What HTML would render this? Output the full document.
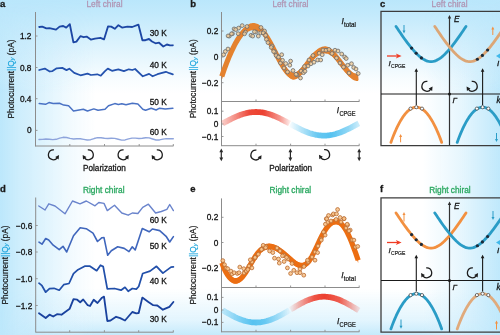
<!DOCTYPE html>
<html><head><meta charset="utf-8"><style>
html,body{margin:0;padding:0;background:#fff;}
body{width:500px;height:335px;overflow:hidden;position:relative;font-family:"Liberation Sans", sans-serif;}
svg{position:absolute;left:0;top:0;font-family:"Liberation Sans", sans-serif;will-change:transform;}
.ov{position:absolute;pointer-events:none;}
#ovT{left:0;top:0;width:500px;height:95px;background:linear-gradient(to bottom, rgba(88,196,246,0.410) 0px, rgba(88,196,246,0.360) 14px, rgba(88,196,246,0.210) 44px, rgba(88,196,246,0.040) 80px, rgba(88,196,246,0.000) 94px);}
#ovL{left:0;top:0;width:98px;height:335px;background:linear-gradient(to right, rgba(88,196,246,0.400) 0px, rgba(88,196,246,0.300) 18px, rgba(88,196,246,0.190) 45px, rgba(88,196,246,0.080) 70px, rgba(88,196,246,0.000) 96px);
 -webkit-mask-image:linear-gradient(to bottom, transparent 0px, #000 90px);mask-image:linear-gradient(to bottom, transparent 0px, #000 90px);}
#ovR{left:420px;top:0;width:80px;height:335px;background:linear-gradient(to left, rgba(88,196,246,0.380) 0px, rgba(88,196,246,0.140) 40px, rgba(88,196,246,0.000) 78px);
 -webkit-mask-image:linear-gradient(to bottom, transparent 0px, #000 90px);mask-image:linear-gradient(to bottom, transparent 0px, #000 90px);}
#ovB{left:0;top:288px;width:500px;height:47px;background:linear-gradient(to top, rgba(88,196,246,0.340) 0px, rgba(88,196,246,0.170) 15px, rgba(88,196,246,0.000) 46px);
 -webkit-mask-image:linear-gradient(to right, transparent 0px, #000 96px, #000 422px, transparent 500px);mask-image:linear-gradient(to right, transparent 0px, #000 96px, #000 422px, transparent 500px);}
</style></head><body>
<div class="ov" id="ovT"></div><div class="ov" id="ovL"></div><div class="ov" id="ovR"></div><div class="ov" id="ovB"></div>
<svg width="500" height="335" viewBox="0 0 500 335">
<text x="0" y="7.2" font-size="9.5" fill="#1a1a1a" stroke="#1a1a1a" stroke-width="0.3" text-anchor="start" font-weight="bold" font-style="normal" >a</text>
<text x="86.5" y="7.2" font-size="8.3" fill="#b096b4" stroke="#b096b4" stroke-width="0.3" text-anchor="start" font-weight="normal" font-style="normal" >Left chiral</text>
<line x1="35.5" y1="12" x2="35.5" y2="146.5" stroke="#8c8c8c" stroke-width="1"/>
<line x1="35.5" y1="146" x2="173.5" y2="146" stroke="#8c8c8c" stroke-width="1"/>
<line x1="69.8" y1="146" x2="69.8" y2="144" stroke="#8c8c8c" stroke-width="0.9"/>
<line x1="104.5" y1="146" x2="104.5" y2="144" stroke="#8c8c8c" stroke-width="0.9"/>
<line x1="139.2" y1="146" x2="139.2" y2="144" stroke="#8c8c8c" stroke-width="0.9"/>
<line x1="173.3" y1="146" x2="173.3" y2="144" stroke="#8c8c8c" stroke-width="0.9"/>
<line x1="35.5" y1="36" x2="37.5" y2="36" stroke="#8c8c8c" stroke-width="0.9"/>
<text x="31.5" y="39" font-size="8.3" fill="#141414" stroke="#141414" stroke-width="0.3" text-anchor="end" font-weight="normal" font-style="normal" >1.2</text>
<line x1="35.5" y1="67.5" x2="37.5" y2="67.5" stroke="#8c8c8c" stroke-width="0.9"/>
<text x="31.5" y="70.5" font-size="8.3" fill="#141414" stroke="#141414" stroke-width="0.3" text-anchor="end" font-weight="normal" font-style="normal" >0.8</text>
<line x1="35.5" y1="98.7" x2="37.5" y2="98.7" stroke="#8c8c8c" stroke-width="0.9"/>
<text x="31.5" y="101.7" font-size="8.3" fill="#141414" stroke="#141414" stroke-width="0.3" text-anchor="end" font-weight="normal" font-style="normal" >0.4</text>
<line x1="35.5" y1="130.4" x2="37.5" y2="130.4" stroke="#8c8c8c" stroke-width="0.9"/>
<text x="31.5" y="133.4" font-size="8.3" fill="#141414" stroke="#141414" stroke-width="0.3" text-anchor="end" font-weight="normal" font-style="normal" >0</text>
<text transform="translate(10.5,79) rotate(-90)" x="0" y="0" font-size="8.3" fill="#141414" stroke="#141414" stroke-width="0.18" text-anchor="middle" dominant-baseline="central">Photocurrent<tspan fill="#1aa4dc" stroke="#1aa4dc">||Q</tspan><tspan fill="#1aa4dc" stroke="#1aa4dc" font-size="5.5" font-style="italic" dy="1.5">y</tspan><tspan dy="-1.5"> (pA)</tspan></text>
<path d="M39.2 27 L42.2 26.6 L46.4 28.4 L49.4 28.2 L56 29.6 L59.6 26.6 L63.2 26 L66.2 27.6 L69.8 24.2 L73.4 42.4 L76.4 41.6 L80.4 36.2 L83.6 37.2 L86.6 36.6 L90.8 39.6 L95 38.6 L100.4 37.8 L104 39.4 L108 26.4 L111.2 26.6 L114.8 28.8 L118.4 25.2 L122 27.6 L127.4 26.6 L132.2 27 L138.4 24.6 L142.4 40.2 L145.4 40.2 L149 39 L152 41.5 L155.5 43.3 L159.1 42.7 L163.3 46.5 L166.9 44.5 L169.9 45.4 L172.8 45.3" fill="none" stroke="#1c46a4" stroke-width="1.85" stroke-linejoin="round" stroke-linecap="round" />
<path d="M39.2 70 L44.8 68.6 L49.7 71.5 L52.5 71.1 L56.7 68.3 L62.3 67.9 L66.5 70.1 L69.3 68.7 L74.2 72.9 L80.5 75.3 L87.5 73.6 L91 75 L97.3 74.3 L100.8 75.7 L105 71.1 L107.8 68.6 L112 70.8 L118.3 69.3 L123.9 71.1 L128.8 69.3 L132.3 70 L135.1 69 L142.8 76.3 L149.1 73.9 L152.6 76.3 L157.5 74.2 L165.9 71.8 L169.4 73.2 L172.9 74.3" fill="none" stroke="#2452ae" stroke-width="1.75" stroke-linejoin="round" stroke-linecap="round" />
<path d="M39.2 103.6 L45.5 104.3 L49 102.6 L53.2 103.6 L59.5 103.3 L63.7 105.1 L68.6 105.7 L73.5 111 L83.3 109.2 L87.5 111 L93.8 108.9 L98 110.3 L105 109.2 L108.5 105.7 L114.8 103.6 L118.3 104.4 L121.8 103.7 L126 104.7 L132.3 103.3 L137.9 104 L142.8 109.2 L145.6 110.3 L151.2 108.2 L156.1 110 L159.6 108.2 L165.2 108.9 L172.9 108.2" fill="none" stroke="#4a72c4" stroke-width="1.5" stroke-linejoin="round" stroke-linecap="round" />
<path d="M39 139.47 L42.44 139.33 L45.89 139 L49.33 139.21 L52.77 139.61 L56.22 139.3 L59.66 138.19 L63.11 137.31 L66.55 137.52 L69.99 138.42 L73.44 138.94 L76.88 138.8 L80.32 138.76 L83.77 139.36 L87.21 139.99 L90.65 139.71 L94.1 138.55 L97.54 137.63 L100.98 137.71 L104.43 138.3 L107.87 138.48 L111.32 138.21 L114.76 138.35 L118.2 139.26 L121.65 140.12 L125.09 139.95 L128.53 138.91 L131.98 138.11 L135.42 138.14 L138.86 138.43 L142.31 138.2 L145.75 137.7 L149.19 137.89 L152.64 138.96 L156.08 139.97 L159.53 139.94 L162.97 139.14 L166.41 138.6 L169.86 138.72 L173.3 138.77" fill="none" stroke="#8ea4dc" stroke-width="1.4" stroke-linejoin="round" stroke-linecap="round" />
<text x="149.7" y="36.1" font-size="8.3" fill="#141414" stroke="#141414" stroke-width="0.3" text-anchor="start" font-weight="normal" font-style="normal" >30 K</text>
<text x="149.7" y="67.6" font-size="8.3" fill="#141414" stroke="#141414" stroke-width="0.3" text-anchor="start" font-weight="normal" font-style="normal" >40 K</text>
<text x="149.7" y="105.1" font-size="8.3" fill="#141414" stroke="#141414" stroke-width="0.3" text-anchor="start" font-weight="normal" font-style="normal" >50 K</text>
<text x="149.7" y="134.6" font-size="8.3" fill="#141414" stroke="#141414" stroke-width="0.3" text-anchor="start" font-weight="normal" font-style="normal" >60 K</text>
<path d="M53.9 149.9 A4.9 4.9 0 1 0 57.36 157.54" fill="none" stroke="#1e1e1e" stroke-width="1.3"/>
<path d="M59.04 155.05 L58.66 159.38 L55.17 157.03Z" fill="#1e1e1e"/>
<path d="M87.8 149.9 A4.9 4.9 0 1 1 84.34 157.54" fill="none" stroke="#1e1e1e" stroke-width="1.3"/>
<path d="M82.66 155.05 L86.53 157.03 L83.04 159.38Z" fill="#1e1e1e"/>
<path d="M123.6 149.9 A4.9 4.9 0 1 0 127.06 157.54" fill="none" stroke="#1e1e1e" stroke-width="1.3"/>
<path d="M128.74 155.05 L128.36 159.38 L124.87 157.03Z" fill="#1e1e1e"/>
<path d="M156.8 149.9 A4.9 4.9 0 1 1 153.34 157.54" fill="none" stroke="#1e1e1e" stroke-width="1.3"/>
<path d="M151.66 155.05 L155.53 157.03 L152.04 159.38Z" fill="#1e1e1e"/>
<text x="83" y="171" font-size="8.2" fill="#1a1a1a" stroke="#1a1a1a" stroke-width="0.3" text-anchor="start" font-weight="normal" font-style="normal" >Polarization</text>
<text x="0" y="192.2" font-size="9.5" fill="#1a1a1a" stroke="#1a1a1a" stroke-width="0.3" text-anchor="start" font-weight="bold" font-style="normal" >d</text>
<text x="83" y="192.8" font-size="8.3" fill="#2aa860" stroke="#2aa860" stroke-width="0.3" text-anchor="start" font-weight="normal" font-style="normal" >Right chiral</text>
<line x1="35.7" y1="197.5" x2="35.7" y2="332.5" stroke="#8c8c8c" stroke-width="1"/>
<line x1="35.7" y1="332.2" x2="173.5" y2="332.2" stroke="#8c8c8c" stroke-width="1"/>
<line x1="69.7" y1="332.2" x2="69.7" y2="330.2" stroke="#8c8c8c" stroke-width="0.9"/>
<line x1="104.4" y1="332.2" x2="104.4" y2="330.2" stroke="#8c8c8c" stroke-width="0.9"/>
<line x1="138.7" y1="332.2" x2="138.7" y2="330.2" stroke="#8c8c8c" stroke-width="0.9"/>
<line x1="173.3" y1="332.2" x2="173.3" y2="330.2" stroke="#8c8c8c" stroke-width="0.9"/>
<line x1="35.7" y1="225.5" x2="37.7" y2="225.5" stroke="#8c8c8c" stroke-width="0.9"/>
<text x="32.3" y="228.5" font-size="8.3" fill="#141414" stroke="#141414" stroke-width="0.3" text-anchor="end" font-weight="normal" font-style="normal" >−0.6</text>
<line x1="35.7" y1="252" x2="37.7" y2="252" stroke="#8c8c8c" stroke-width="0.9"/>
<text x="32.3" y="255" font-size="8.3" fill="#141414" stroke="#141414" stroke-width="0.3" text-anchor="end" font-weight="normal" font-style="normal" >−0.8</text>
<line x1="35.7" y1="278.7" x2="37.7" y2="278.7" stroke="#8c8c8c" stroke-width="0.9"/>
<text x="32.3" y="281.7" font-size="8.3" fill="#141414" stroke="#141414" stroke-width="0.3" text-anchor="end" font-weight="normal" font-style="normal" >−1.0</text>
<line x1="35.7" y1="305.5" x2="37.7" y2="305.5" stroke="#8c8c8c" stroke-width="0.9"/>
<text x="32.3" y="308.5" font-size="8.3" fill="#141414" stroke="#141414" stroke-width="0.3" text-anchor="end" font-weight="normal" font-style="normal" >−1.2</text>
<text transform="translate(4.6,265) rotate(-90)" x="0" y="0" font-size="8.3" fill="#141414" stroke="#141414" stroke-width="0.18" text-anchor="middle" dominant-baseline="central">Photocurrent<tspan fill="#1aa4dc" stroke="#1aa4dc">||Q</tspan><tspan fill="#1aa4dc" stroke="#1aa4dc" font-size="5.5" font-style="italic" dy="1.5">y</tspan><tspan dy="-1.5"> (pA)</tspan></text>
<path d="M38.8 206 L45 210 L48.8 203.8 L55 206 L65 213.8 L72.5 201 L80 203.8 L86.3 201 L95 205.8 L98.8 202.5 L104 203.4 L107.3 210.6 L114.5 205.3 L121.8 213 L128.2 215.2 L132.3 213 L137.9 213.5 L142.7 207.4 L148.4 204.2 L155.6 213 L161.3 211.5 L166.9 209.4 L169.7 204.5 L173.4 210.6" fill="none" stroke="#6a84cc" stroke-width="1.4" stroke-linejoin="round" stroke-linecap="round" />
<path d="M39 242.2 L42 244.2 L45.7 238.5 L48.7 240 L53.2 245.2 L59.2 249.7 L63 246.3 L66.7 252 L73.5 235.8 L80.2 227.7 L86.2 228.7 L93 233.2 L97.5 241.5 L102 237.7 L104 237.6 L107.7 255.3 L111.3 250.8 L117.7 246.8 L124.2 248.4 L129 251.6 L132.3 246.8 L135.2 250 L142.3 228.5 L149.2 231.8 L152.4 229 L159.7 230.6 L166.1 236.3 L169.7 242 L173.4 236.6" fill="none" stroke="#3f66bc" stroke-width="1.6" stroke-linejoin="round" stroke-linecap="round" />
<path d="M39 283.2 L42 285.7 L45.7 292.2 L49.5 288.7 L54 288.3 L59.2 290.2 L63.7 284.7 L69 283.5 L73.5 273.7 L78 269.7 L84.7 266.2 L90 266.2 L96.7 270.7 L100.5 265.2 L103.2 266.6 L107.3 288.9 L114.5 288.5 L121 290.2 L125 287.3 L128.2 291.3 L132.3 288.5 L136.3 289.2 L138.7 286.5 L142.7 273.5 L150 271.1 L156.5 266.3 L162.9 273.1 L171 267.1 L173.4 266.8" fill="none" stroke="#2250aa" stroke-width="1.75" stroke-linejoin="round" stroke-linecap="round" />
<path d="M39 313.2 L45.7 318 L49.5 314.7 L53.2 316.5 L57 314.2 L61.5 314.7 L65.2 312 L69.7 308.7 L73.5 299.2 L77.2 299.7 L80.2 302.2 L83.2 299.5 L87.7 305.2 L90 306 L93.7 299.7 L97.5 303 L102 297.7 L104 296.6 L107.3 321 L110.5 320.5 L116.1 316.8 L120.2 318.1 L125 320.5 L132.3 312 L136.3 313.3 L138.7 313 L142.3 297.6 L148.4 302 L153.2 305.2 L157.3 305.5 L162.9 309.7 L169.4 306.8 L173.4 302" fill="none" stroke="#1a429e" stroke-width="1.85" stroke-linejoin="round" stroke-linecap="round" />
<text x="149.7" y="222.7" font-size="8.3" fill="#141414" stroke="#141414" stroke-width="0.3" text-anchor="start" font-weight="normal" font-style="normal" >60 K</text>
<text x="149.7" y="248.9" font-size="8.3" fill="#141414" stroke="#141414" stroke-width="0.3" text-anchor="start" font-weight="normal" font-style="normal" >50 K</text>
<text x="149.7" y="284.4" font-size="8.3" fill="#141414" stroke="#141414" stroke-width="0.3" text-anchor="start" font-weight="normal" font-style="normal" >40 K</text>
<text x="149.7" y="321.6" font-size="8.3" fill="#141414" stroke="#141414" stroke-width="0.3" text-anchor="start" font-weight="normal" font-style="normal" >30 K</text>
<defs><linearGradient id="gR1" gradientUnits="userSpaceOnUse" x1="222" y1="0" x2="290" y2="0"><stop offset="0" stop-color="#ec4030" stop-opacity="0.25"/><stop offset="0.2" stop-color="#ec4030" stop-opacity="0.6"/><stop offset="0.4" stop-color="#ec4030" stop-opacity="0.95"/><stop offset="0.6" stop-color="#ec4030" stop-opacity="1"/><stop offset="0.85" stop-color="#ec4030" stop-opacity="0.55"/><stop offset="1" stop-color="#ec4030" stop-opacity="0.1"/></linearGradient><linearGradient id="gB1" gradientUnits="userSpaceOnUse" x1="290" y1="0" x2="359" y2="0"><stop offset="0" stop-color="#56c2f0" stop-opacity="0.05"/><stop offset="0.15" stop-color="#56c2f0" stop-opacity="0.4"/><stop offset="0.4" stop-color="#56c2f0" stop-opacity="0.9"/><stop offset="0.6" stop-color="#56c2f0" stop-opacity="1"/><stop offset="0.85" stop-color="#56c2f0" stop-opacity="0.65"/><stop offset="1" stop-color="#56c2f0" stop-opacity="0.3"/></linearGradient><linearGradient id="gB2" gradientUnits="userSpaceOnUse" x1="222" y1="0" x2="290" y2="0"><stop offset="0" stop-color="#56c2f0" stop-opacity="0.3"/><stop offset="0.2" stop-color="#56c2f0" stop-opacity="0.65"/><stop offset="0.45" stop-color="#56c2f0" stop-opacity="1"/><stop offset="0.62" stop-color="#56c2f0" stop-opacity="0.9"/><stop offset="0.85" stop-color="#56c2f0" stop-opacity="0.45"/><stop offset="1" stop-color="#56c2f0" stop-opacity="0.05"/></linearGradient><linearGradient id="gR2" gradientUnits="userSpaceOnUse" x1="290" y1="0" x2="359" y2="0"><stop offset="0" stop-color="#ec4030" stop-opacity="0.05"/><stop offset="0.15" stop-color="#ec4030" stop-opacity="0.45"/><stop offset="0.35" stop-color="#ec4030" stop-opacity="0.9"/><stop offset="0.5" stop-color="#ec4030" stop-opacity="1"/><stop offset="0.72" stop-color="#ec4030" stop-opacity="0.85"/><stop offset="1" stop-color="#ec4030" stop-opacity="0.15"/></linearGradient><filter id="soft" x="-5%" y="-40%" width="110%" height="180%"><feGaussianBlur stdDeviation="0.45"/></filter></defs>
<text x="190.3" y="7.2" font-size="9.5" fill="#1a1a1a" stroke="#1a1a1a" stroke-width="0.3" text-anchor="start" font-weight="bold" font-style="normal" >b</text>
<text x="272.4" y="7.2" font-size="8.3" fill="#b096b4" stroke="#b096b4" stroke-width="0.3" text-anchor="start" font-weight="normal" font-style="normal" >Left chiral</text>
<line x1="221.5" y1="12" x2="221.5" y2="146.2" stroke="#8c8c8c" stroke-width="1"/>
<line x1="221.5" y1="101.5" x2="359.4" y2="101.5" stroke="#8c8c8c" stroke-width="1"/>
<line x1="221.5" y1="145.7" x2="359.4" y2="145.7" stroke="#8c8c8c" stroke-width="1"/>
<line x1="256" y1="101.5" x2="256" y2="99.5" stroke="#8c8c8c" stroke-width="0.9"/>
<line x1="256" y1="145.7" x2="256" y2="143.7" stroke="#8c8c8c" stroke-width="0.9"/>
<line x1="290.6" y1="101.5" x2="290.6" y2="99.5" stroke="#8c8c8c" stroke-width="0.9"/>
<line x1="290.6" y1="145.7" x2="290.6" y2="143.7" stroke="#8c8c8c" stroke-width="0.9"/>
<line x1="325" y1="101.5" x2="325" y2="99.5" stroke="#8c8c8c" stroke-width="0.9"/>
<line x1="325" y1="145.7" x2="325" y2="143.7" stroke="#8c8c8c" stroke-width="0.9"/>
<line x1="359.2" y1="101.5" x2="359.2" y2="99.5" stroke="#8c8c8c" stroke-width="0.9"/>
<line x1="359.2" y1="145.7" x2="359.2" y2="143.7" stroke="#8c8c8c" stroke-width="0.9"/>
<line x1="221.5" y1="31" x2="223.5" y2="31" stroke="#8c8c8c" stroke-width="0.9"/>
<text x="218.3" y="34" font-size="8.3" fill="#141414" stroke="#141414" stroke-width="0.3" text-anchor="end" font-weight="normal" font-style="normal" >0.2</text>
<line x1="221.5" y1="57" x2="223.5" y2="57" stroke="#8c8c8c" stroke-width="0.9"/>
<text x="218.3" y="60" font-size="8.3" fill="#141414" stroke="#141414" stroke-width="0.3" text-anchor="end" font-weight="normal" font-style="normal" >0</text>
<line x1="221.5" y1="82.7" x2="223.5" y2="82.7" stroke="#8c8c8c" stroke-width="0.9"/>
<text x="218.3" y="85.7" font-size="8.3" fill="#141414" stroke="#141414" stroke-width="0.3" text-anchor="end" font-weight="normal" font-style="normal" >−0.2</text>
<line x1="221.5" y1="111.2" x2="223.5" y2="111.2" stroke="#8c8c8c" stroke-width="0.9"/>
<text x="218.3" y="114.2" font-size="8.3" fill="#141414" stroke="#141414" stroke-width="0.3" text-anchor="end" font-weight="normal" font-style="normal" >0.1</text>
<line x1="221.5" y1="124" x2="223.5" y2="124" stroke="#8c8c8c" stroke-width="0.9"/>
<text x="218.3" y="127" font-size="8.3" fill="#141414" stroke="#141414" stroke-width="0.3" text-anchor="end" font-weight="normal" font-style="normal" >0</text>
<line x1="221.5" y1="136.5" x2="223.5" y2="136.5" stroke="#8c8c8c" stroke-width="0.9"/>
<text x="218.3" y="139.5" font-size="8.3" fill="#141414" stroke="#141414" stroke-width="0.3" text-anchor="end" font-weight="normal" font-style="normal" >−0.1</text>
<text transform="translate(193.2,78.85) rotate(-90)" x="0" y="0" font-size="8.3" fill="#141414" stroke="#141414" stroke-width="0.18" text-anchor="middle" dominant-baseline="central">Photocurrent<tspan fill="#1aa4dc" stroke="#1aa4dc">||Q</tspan><tspan fill="#1aa4dc" stroke="#1aa4dc" font-size="5.5" font-style="italic" dy="1.5">y</tspan><tspan dy="-1.5"> (pA)</tspan></text>
<path d="M221.8 72.76 L222.66 70.24 L223.52 67.78 L224.37 65.38 L225.23 63.04 L226.09 60.75 L226.95 58.53 L227.81 56.37 L228.66 54.26 L229.52 52.22 L230.38 50.24 L231.24 48.33 L232.09 46.48 L232.95 44.69 L233.81 42.97 L234.67 41.32 L235.53 39.73 L236.38 38.21 L237.24 36.76 L238.1 35.37 L238.96 34.06 L239.82 32.81 L240.67 31.64 L241.53 30.54 L242.39 29.51 L243.25 28.55 L244.1 27.67 L244.96 26.86 L245.82 26.13 L246.68 25.47 L247.54 24.89 L248.39 24.38 L249.25 23.96 L250.11 23.61 L250.97 23.34 L251.83 23.15 L252.68 23.04 L253.54 23.01 L254.4 23.07 L255.26 23.2 L256.11 23.42 L256.97 23.72 L257.83 24.11 L258.69 24.59 L259.55 25.14 L260.4 25.79 L261.26 26.52 L262.12 27.34 L262.98 28.25 L263.84 29.25 L264.69 30.34 L265.55 31.52 L266.41 32.77 L267.27 34.1 L268.12 35.5 L268.98 36.95 L269.84 38.46 L270.7 40 L271.56 41.59 L272.41 43.21 L273.27 44.85 L274.13 46.5 L274.99 48.16 L275.85 49.83 L276.7 51.49 L277.56 53.14 L278.42 54.76 L279.28 56.36 L280.13 57.93 L280.99 59.45 L281.85 60.93 L282.71 62.35 L283.57 63.7 L284.42 64.99 L285.28 66.2 L286.14 67.33 L287 68.36 L287.86 69.3 L288.71 70.13 L289.57 70.85 L290.43 71.45 L291.29 71.92 L292.14 72.26 L293 72.45 L293.86 72.5 L294.72 72.4 L295.58 72.16 L296.43 71.8 L297.29 71.31 L298.15 70.72 L299.01 70.02 L299.87 69.24 L300.72 68.38 L301.58 67.44 L302.44 66.45 L303.3 65.41 L304.15 64.33 L305.01 63.22 L305.87 62.08 L306.73 60.94 L307.59 59.8 L308.44 58.67 L309.3 57.55 L310.16 56.47 L311.02 55.42 L311.88 54.42 L312.73 53.46 L313.59 52.56 L314.45 51.71 L315.31 50.91 L316.16 50.17 L317.02 49.49 L317.88 48.87 L318.74 48.31 L319.6 47.82 L320.45 47.39 L321.31 47.04 L322.17 46.75 L323.03 46.54 L323.89 46.4 L324.74 46.34 L325.6 46.36 L326.46 46.46 L327.32 46.65 L328.17 46.92 L329.03 47.28 L329.89 47.73 L330.75 48.27 L331.61 48.9 L332.46 49.6 L333.32 50.38 L334.18 51.22 L335.04 52.12 L335.9 53.08 L336.75 54.07 L337.61 55.11 L338.47 56.18 L339.33 57.27 L340.18 58.38 L341.04 59.5 L341.9 60.62 L342.76 61.74 L343.62 62.85 L344.47 63.95 L345.33 65.02 L346.19 66.06 L347.05 67.07 L347.91 68.03 L348.76 68.94 L349.62 69.8 L350.48 70.59 L351.34 71.31 L352.19 71.95 L353.05 72.51 L353.91 72.98 L354.77 73.35 L355.63 73.61 L356.48 73.76 L357.34 73.8 L358.2 73.71 L358.2 80.91 L357.34 81 L356.48 80.96 L355.63 80.81 L354.77 80.55 L353.91 80.18 L353.05 79.71 L352.19 79.15 L351.34 78.51 L350.48 77.79 L349.62 77 L348.76 76.14 L347.91 75.23 L347.05 74.27 L346.19 73.26 L345.33 72.22 L344.47 71.15 L343.62 70.05 L342.76 68.94 L341.9 67.82 L341.04 66.7 L340.18 65.58 L339.33 64.47 L338.47 63.38 L337.61 62.31 L336.75 61.27 L335.9 60.28 L335.04 59.32 L334.18 58.42 L333.32 57.58 L332.46 56.8 L331.61 56.1 L330.75 55.47 L329.89 54.93 L329.03 54.48 L328.17 54.12 L327.32 53.85 L326.46 53.66 L325.6 53.56 L324.74 53.54 L323.89 53.6 L323.03 53.74 L322.17 53.95 L321.31 54.24 L320.45 54.59 L319.6 55.02 L318.74 55.51 L317.88 56.07 L317.02 56.69 L316.16 57.37 L315.31 58.11 L314.45 58.91 L313.59 59.76 L312.73 60.66 L311.88 61.62 L311.02 62.62 L310.16 63.67 L309.3 64.75 L308.44 65.87 L307.59 67 L306.73 68.14 L305.87 69.28 L305.01 70.42 L304.15 71.53 L303.3 72.61 L302.44 73.65 L301.58 74.64 L300.72 75.58 L299.87 76.44 L299.01 77.22 L298.15 77.92 L297.29 78.51 L296.43 79 L295.58 79.36 L294.72 79.6 L293.86 79.7 L293 79.65 L292.14 79.46 L291.29 79.12 L290.43 78.65 L289.57 78.05 L288.71 77.33 L287.86 76.5 L287 75.56 L286.14 74.53 L285.28 73.4 L284.42 72.19 L283.57 70.9 L282.71 69.55 L281.85 68.13 L280.99 66.65 L280.13 65.13 L279.28 63.56 L278.42 61.96 L277.56 60.34 L276.7 58.69 L275.85 57.03 L274.99 55.36 L274.13 53.7 L273.27 52.05 L272.41 50.41 L271.56 48.79 L270.7 47.2 L269.84 45.66 L268.98 44.15 L268.12 42.7 L267.27 41.3 L266.41 39.97 L265.55 38.72 L264.69 37.54 L263.84 36.45 L262.98 35.45 L262.12 34.54 L261.26 33.72 L260.4 32.99 L259.55 32.34 L258.69 31.79 L257.83 31.31 L256.97 30.92 L256.11 30.62 L255.26 30.4 L254.4 30.27 L253.54 30.21 L252.68 30.24 L251.83 30.35 L250.97 30.54 L250.11 30.81 L249.25 31.16 L248.39 31.58 L247.54 32.09 L246.68 32.67 L245.82 33.33 L244.96 34.06 L244.1 34.87 L243.25 35.75 L242.39 36.71 L241.53 37.74 L240.67 38.84 L239.82 40.01 L238.96 41.26 L238.1 42.57 L237.24 43.96 L236.38 45.41 L235.53 46.93 L234.67 48.52 L233.81 50.17 L232.95 51.89 L232.09 53.68 L231.24 55.53 L230.38 57.44 L229.52 59.42 L228.66 61.46 L227.81 63.57 L226.95 65.73 L226.09 67.95 L225.23 70.24 L224.37 72.58 L223.52 74.98 L222.66 77.44 L221.8 79.96Z" fill="#e4822f"/>
<path d="M221.8 76.36 L222.66 73.84 L223.52 71.38 L224.37 68.98 L225.23 66.64 L226.09 64.35 L226.95 62.13 L227.81 59.97 L228.66 57.86 L229.52 55.82 L230.38 53.84 L231.24 51.93 L232.09 50.08 L232.95 48.29 L233.81 46.57 L234.67 44.92 L235.53 43.33 L236.38 41.81 L237.24 40.36 L238.1 38.97 L238.96 37.66 L239.82 36.41 L240.67 35.24 L241.53 34.14 L242.39 33.11 L243.25 32.15 L244.1 31.27 L244.96 30.46 L245.82 29.73 L246.68 29.07 L247.54 28.49 L248.39 27.98 L249.25 27.56 L250.11 27.21 L250.97 26.94 L251.83 26.75 L252.68 26.64 L253.54 26.61 L254.4 26.67 L255.26 26.8 L256.11 27.02 L256.97 27.32 L257.83 27.71 L258.69 28.19 L259.55 28.74 L260.4 29.39 L261.26 30.12 L262.12 30.94 L262.98 31.85 L263.84 32.85 L264.69 33.94 L265.55 35.12 L266.41 36.37 L267.27 37.7 L268.12 39.1 L268.98 40.55 L269.84 42.06 L270.7 43.6 L271.56 45.19 L272.41 46.81 L273.27 48.45 L274.13 50.1 L274.99 51.76 L275.85 53.43 L276.7 55.09 L277.56 56.74 L278.42 58.36 L279.28 59.96 L280.13 61.53 L280.99 63.05 L281.85 64.53 L282.71 65.95 L283.57 67.3 L284.42 68.59 L285.28 69.8 L286.14 70.93 L287 71.96 L287.86 72.9 L288.71 73.73 L289.57 74.45 L290.43 75.05 L291.29 75.52 L292.14 75.86 L293 76.05 L293.86 76.1 L294.72 76 L295.58 75.76 L296.43 75.4 L297.29 74.91 L298.15 74.32 L299.01 73.62 L299.87 72.84 L300.72 71.98 L301.58 71.04 L302.44 70.05 L303.3 69.01 L304.15 67.93 L305.01 66.82 L305.87 65.68 L306.73 64.54 L307.59 63.4 L308.44 62.27 L309.3 61.15 L310.16 60.07 L311.02 59.02 L311.88 58.02 L312.73 57.06 L313.59 56.16 L314.45 55.31 L315.31 54.51 L316.16 53.77 L317.02 53.09 L317.88 52.47 L318.74 51.91 L319.6 51.42 L320.45 50.99 L321.31 50.64 L322.17 50.35 L323.03 50.14 L323.89 50 L324.74 49.94 L325.6 49.96 L326.46 50.06 L327.32 50.25 L328.17 50.52 L329.03 50.88 L329.89 51.33 L330.75 51.87 L331.61 52.5 L332.46 53.2 L333.32 53.98 L334.18 54.82 L335.04 55.72 L335.9 56.68 L336.75 57.67 L337.61 58.71 L338.47 59.78 L339.33 60.87 L340.18 61.98 L341.04 63.1 L341.9 64.22 L342.76 65.34 L343.62 66.45 L344.47 67.55 L345.33 68.62 L346.19 69.66 L347.05 70.67 L347.91 71.63 L348.76 72.54 L349.62 73.4 L350.48 74.19 L351.34 74.91 L352.19 75.55 L353.05 76.11 L353.91 76.58 L354.77 76.95 L355.63 77.21 L356.48 77.36 L357.34 77.4 L358.2 77.31" fill="none" stroke="#e4822f" stroke-width="5.2"/>
<circle cx="272" cy="46" r="1.9" fill="#eccb9c" fill-opacity="0.85" stroke="#6a6a6a" stroke-width="0.8"/>
<circle cx="275" cy="52" r="1.9" fill="#eccb9c" fill-opacity="0.85" stroke="#6a6a6a" stroke-width="0.8"/>
<circle cx="277.5" cy="56.5" r="1.9" fill="#eccb9c" fill-opacity="0.85" stroke="#6a6a6a" stroke-width="0.8"/>
<circle cx="280.5" cy="63" r="1.9" fill="#eccb9c" fill-opacity="0.85" stroke="#6a6a6a" stroke-width="0.8"/>
<circle cx="284" cy="68" r="1.9" fill="#eccb9c" fill-opacity="0.85" stroke="#6a6a6a" stroke-width="0.8"/>
<circle cx="287.5" cy="72" r="1.9" fill="#eccb9c" fill-opacity="0.85" stroke="#6a6a6a" stroke-width="0.8"/>
<circle cx="297" cy="75" r="1.9" fill="#eccb9c" fill-opacity="0.85" stroke="#6a6a6a" stroke-width="0.8"/>
<circle cx="301" cy="71" r="1.9" fill="#eccb9c" fill-opacity="0.85" stroke="#6a6a6a" stroke-width="0.8"/>
<circle cx="304.5" cy="66.5" r="1.9" fill="#eccb9c" fill-opacity="0.85" stroke="#6a6a6a" stroke-width="0.8"/>
<circle cx="309" cy="60" r="1.9" fill="#eccb9c" fill-opacity="0.85" stroke="#6a6a6a" stroke-width="0.8"/>
<circle cx="313" cy="55.5" r="1.9" fill="#eccb9c" fill-opacity="0.85" stroke="#6a6a6a" stroke-width="0.8"/>
<circle cx="323" cy="50" r="1.9" fill="#eccb9c" fill-opacity="0.85" stroke="#6a6a6a" stroke-width="0.8"/>
<circle cx="332" cy="53.5" r="1.9" fill="#eccb9c" fill-opacity="0.85" stroke="#6a6a6a" stroke-width="0.8"/>
<circle cx="336.5" cy="58" r="1.9" fill="#eccb9c" fill-opacity="0.85" stroke="#6a6a6a" stroke-width="0.8"/>
<circle cx="340" cy="63" r="1.9" fill="#eccb9c" fill-opacity="0.85" stroke="#6a6a6a" stroke-width="0.8"/>
<circle cx="343.5" cy="67" r="1.9" fill="#eccb9c" fill-opacity="0.85" stroke="#6a6a6a" stroke-width="0.8"/>
<circle cx="349" cy="73" r="1.9" fill="#eccb9c" fill-opacity="0.85" stroke="#6a6a6a" stroke-width="0.8"/>
<circle cx="261" cy="27.5" r="1.9" fill="#eccb9c" fill-opacity="0.85" stroke="#6a6a6a" stroke-width="0.8"/>
<circle cx="264.5" cy="31" r="1.9" fill="#eccb9c" fill-opacity="0.85" stroke="#6a6a6a" stroke-width="0.8"/>
<circle cx="223.6" cy="54.7" r="1.9" fill="#eccb9c" fill-opacity="0.85" stroke="#6a6a6a" stroke-width="0.8"/>
<circle cx="225.3" cy="51.5" r="1.9" fill="#eccb9c" fill-opacity="0.85" stroke="#6a6a6a" stroke-width="0.8"/>
<circle cx="228" cy="49" r="1.9" fill="#eccb9c" fill-opacity="0.85" stroke="#6a6a6a" stroke-width="0.8"/>
<circle cx="229.3" cy="36.1" r="1.9" fill="#eccb9c" fill-opacity="0.85" stroke="#6a6a6a" stroke-width="0.8"/>
<circle cx="232.5" cy="33.7" r="1.9" fill="#eccb9c" fill-opacity="0.85" stroke="#6a6a6a" stroke-width="0.8"/>
<circle cx="234.1" cy="28.9" r="1.9" fill="#eccb9c" fill-opacity="0.85" stroke="#6a6a6a" stroke-width="0.8"/>
<circle cx="238.2" cy="33.7" r="1.9" fill="#eccb9c" fill-opacity="0.85" stroke="#6a6a6a" stroke-width="0.8"/>
<circle cx="238.6" cy="28.1" r="1.9" fill="#eccb9c" fill-opacity="0.85" stroke="#6a6a6a" stroke-width="0.8"/>
<circle cx="242.2" cy="25.6" r="1.9" fill="#eccb9c" fill-opacity="0.85" stroke="#6a6a6a" stroke-width="0.8"/>
<circle cx="247" cy="26.5" r="1.9" fill="#eccb9c" fill-opacity="0.85" stroke="#6a6a6a" stroke-width="0.8"/>
<circle cx="245.4" cy="32.1" r="1.9" fill="#eccb9c" fill-opacity="0.85" stroke="#6a6a6a" stroke-width="0.8"/>
<circle cx="251" cy="35.3" r="1.9" fill="#eccb9c" fill-opacity="0.85" stroke="#6a6a6a" stroke-width="0.8"/>
<circle cx="252.7" cy="36.1" r="1.9" fill="#eccb9c" fill-opacity="0.85" stroke="#6a6a6a" stroke-width="0.8"/>
<circle cx="255.9" cy="32.1" r="1.9" fill="#eccb9c" fill-opacity="0.85" stroke="#6a6a6a" stroke-width="0.8"/>
<circle cx="258.3" cy="36.1" r="1.9" fill="#eccb9c" fill-opacity="0.85" stroke="#6a6a6a" stroke-width="0.8"/>
<circle cx="260.7" cy="32.9" r="1.9" fill="#eccb9c" fill-opacity="0.85" stroke="#6a6a6a" stroke-width="0.8"/>
<circle cx="263.2" cy="32.9" r="1.9" fill="#eccb9c" fill-opacity="0.85" stroke="#6a6a6a" stroke-width="0.8"/>
<circle cx="265.6" cy="35.3" r="1.9" fill="#eccb9c" fill-opacity="0.85" stroke="#6a6a6a" stroke-width="0.8"/>
<circle cx="266.4" cy="39.4" r="1.9" fill="#eccb9c" fill-opacity="0.85" stroke="#6a6a6a" stroke-width="0.8"/>
<circle cx="268" cy="42.6" r="1.9" fill="#eccb9c" fill-opacity="0.85" stroke="#6a6a6a" stroke-width="0.8"/>
<circle cx="271.2" cy="47.4" r="1.9" fill="#eccb9c" fill-opacity="0.85" stroke="#6a6a6a" stroke-width="0.8"/>
<circle cx="273.6" cy="51.5" r="1.9" fill="#eccb9c" fill-opacity="0.85" stroke="#6a6a6a" stroke-width="0.8"/>
<circle cx="276.1" cy="55.5" r="1.9" fill="#eccb9c" fill-opacity="0.85" stroke="#6a6a6a" stroke-width="0.8"/>
<circle cx="278.5" cy="57.1" r="1.9" fill="#eccb9c" fill-opacity="0.85" stroke="#6a6a6a" stroke-width="0.8"/>
<circle cx="281.7" cy="54.7" r="1.9" fill="#eccb9c" fill-opacity="0.85" stroke="#6a6a6a" stroke-width="0.8"/>
<circle cx="282.5" cy="60.3" r="1.9" fill="#eccb9c" fill-opacity="0.85" stroke="#6a6a6a" stroke-width="0.8"/>
<circle cx="285.7" cy="63.5" r="1.9" fill="#eccb9c" fill-opacity="0.85" stroke="#6a6a6a" stroke-width="0.8"/>
<circle cx="290.6" cy="61.1" r="1.9" fill="#eccb9c" fill-opacity="0.85" stroke="#6a6a6a" stroke-width="0.8"/>
<circle cx="289.8" cy="65.2" r="1.9" fill="#eccb9c" fill-opacity="0.85" stroke="#6a6a6a" stroke-width="0.8"/>
<circle cx="293" cy="70.5" r="1.9" fill="#eccb9c" fill-opacity="0.85" stroke="#6a6a6a" stroke-width="0.8"/>
<circle cx="296" cy="74.2" r="1.9" fill="#eccb9c" fill-opacity="0.85" stroke="#6a6a6a" stroke-width="0.8"/>
<circle cx="300.5" cy="78" r="1.9" fill="#eccb9c" fill-opacity="0.85" stroke="#6a6a6a" stroke-width="0.8"/>
<circle cx="303.5" cy="72.7" r="1.9" fill="#eccb9c" fill-opacity="0.85" stroke="#6a6a6a" stroke-width="0.8"/>
<circle cx="305" cy="71.2" r="1.9" fill="#eccb9c" fill-opacity="0.85" stroke="#6a6a6a" stroke-width="0.8"/>
<circle cx="308" cy="66" r="1.9" fill="#eccb9c" fill-opacity="0.85" stroke="#6a6a6a" stroke-width="0.8"/>
<circle cx="311" cy="63.7" r="1.9" fill="#eccb9c" fill-opacity="0.85" stroke="#6a6a6a" stroke-width="0.8"/>
<circle cx="314" cy="62.2" r="1.9" fill="#eccb9c" fill-opacity="0.85" stroke="#6a6a6a" stroke-width="0.8"/>
<circle cx="317.7" cy="60" r="1.9" fill="#eccb9c" fill-opacity="0.85" stroke="#6a6a6a" stroke-width="0.8"/>
<circle cx="320.7" cy="60" r="1.9" fill="#eccb9c" fill-opacity="0.85" stroke="#6a6a6a" stroke-width="0.8"/>
<circle cx="319.2" cy="53.2" r="1.9" fill="#eccb9c" fill-opacity="0.85" stroke="#6a6a6a" stroke-width="0.8"/>
<circle cx="322.2" cy="54.7" r="1.9" fill="#eccb9c" fill-opacity="0.85" stroke="#6a6a6a" stroke-width="0.8"/>
<circle cx="326" cy="50.2" r="1.9" fill="#eccb9c" fill-opacity="0.85" stroke="#6a6a6a" stroke-width="0.8"/>
<circle cx="329" cy="49.5" r="1.9" fill="#eccb9c" fill-opacity="0.85" stroke="#6a6a6a" stroke-width="0.8"/>
<circle cx="335" cy="50.2" r="1.9" fill="#eccb9c" fill-opacity="0.85" stroke="#6a6a6a" stroke-width="0.8"/>
<circle cx="338" cy="51" r="1.9" fill="#eccb9c" fill-opacity="0.85" stroke="#6a6a6a" stroke-width="0.8"/>
<circle cx="341.7" cy="54" r="1.9" fill="#eccb9c" fill-opacity="0.85" stroke="#6a6a6a" stroke-width="0.8"/>
<circle cx="344.7" cy="57" r="1.9" fill="#eccb9c" fill-opacity="0.85" stroke="#6a6a6a" stroke-width="0.8"/>
<circle cx="346.2" cy="58.5" r="1.9" fill="#eccb9c" fill-opacity="0.85" stroke="#6a6a6a" stroke-width="0.8"/>
<circle cx="347.7" cy="65.2" r="1.9" fill="#eccb9c" fill-opacity="0.85" stroke="#6a6a6a" stroke-width="0.8"/>
<circle cx="351.5" cy="63.7" r="1.9" fill="#eccb9c" fill-opacity="0.85" stroke="#6a6a6a" stroke-width="0.8"/>
<circle cx="353.7" cy="67.5" r="1.9" fill="#eccb9c" fill-opacity="0.85" stroke="#6a6a6a" stroke-width="0.8"/>
<circle cx="356" cy="69" r="1.9" fill="#eccb9c" fill-opacity="0.85" stroke="#6a6a6a" stroke-width="0.8"/>
<circle cx="358.2" cy="73.5" r="1.9" fill="#eccb9c" fill-opacity="0.85" stroke="#6a6a6a" stroke-width="0.8"/>
<circle cx="228.1" cy="35.9" r="1.9" fill="#eccb9c" fill-opacity="0.85" stroke="#6a6a6a" stroke-width="0.8"/>
<circle cx="231.5" cy="33.8" r="1.9" fill="#eccb9c" fill-opacity="0.85" stroke="#6a6a6a" stroke-width="0.8"/>
<circle cx="235.7" cy="29.6" r="1.9" fill="#eccb9c" fill-opacity="0.85" stroke="#6a6a6a" stroke-width="0.8"/>
<circle cx="244.5" cy="33.8" r="1.9" fill="#eccb9c" fill-opacity="0.85" stroke="#6a6a6a" stroke-width="0.8"/>
<circle cx="254.4" cy="31.7" r="1.9" fill="#eccb9c" fill-opacity="0.85" stroke="#6a6a6a" stroke-width="0.8"/>
<path d="M222.5 123.53 L223.64 122.91 L224.77 122.29 L225.91 121.68 L227.04 121.08 L228.18 120.48 L229.31 119.89 L230.45 119.31 L231.58 118.74 L232.72 118.19 L233.86 117.66 L234.99 117.14 L236.13 116.63 L237.26 116.15 L238.4 115.69 L239.53 115.25 L240.67 114.84 L241.81 114.45 L242.94 114.08 L244.08 113.75 L245.21 113.44 L246.35 113.15 L247.48 112.9 L248.62 112.68 L249.75 112.49 L250.89 112.33 L252.03 112.2 L253.16 112.1 L254.3 112.04 L255.43 112 L256.57 112 L257.7 112.04 L258.84 112.1 L259.97 112.2 L261.11 112.33 L262.25 112.49 L263.38 112.68 L264.52 112.9 L265.65 113.15 L266.79 113.44 L267.92 113.75 L269.06 114.08 L270.19 114.45 L271.33 114.84 L272.47 115.25 L273.6 115.69 L274.74 116.15 L275.87 116.63 L277.01 117.14 L278.14 117.66 L279.28 118.19 L280.42 118.74 L281.55 119.31 L282.69 119.89 L283.82 120.48 L284.96 121.08 L286.09 121.68 L287.23 122.29 L288.36 122.91 L289.5 123.53" fill="none" stroke="url(#gR1)" stroke-width="5.8" filter="url(#soft)"/>
<path d="M290.5 124.07 L291.66 124.7 L292.82 125.33 L293.97 125.95 L295.13 126.57 L296.29 127.18 L297.45 127.78 L298.6 128.37 L299.76 128.94 L300.92 129.5 L302.08 130.05 L303.23 130.57 L304.39 131.08 L305.55 131.57 L306.71 132.03 L307.86 132.47 L309.02 132.89 L310.18 133.28 L311.34 133.64 L312.49 133.97 L313.65 134.28 L314.81 134.55 L315.97 134.8 L317.13 135.01 L318.28 135.19 L319.44 135.34 L320.6 135.45 L321.76 135.54 L322.91 135.59 L324.07 135.6 L325.23 135.58 L326.39 135.53 L327.54 135.44 L328.7 135.32 L329.86 135.17 L331.02 134.99 L332.17 134.77 L333.33 134.52 L334.49 134.24 L335.65 133.93 L336.81 133.59 L337.96 133.23 L339.12 132.84 L340.28 132.42 L341.44 131.97 L342.59 131.51 L343.75 131.02 L344.91 130.51 L346.07 129.98 L347.22 129.44 L348.38 128.87 L349.54 128.3 L350.7 127.71 L351.85 127.11 L353.01 126.5 L354.17 125.88 L355.33 125.25 L356.48 124.63 L357.64 123.99 L358.8 123.36" fill="none" stroke="url(#gB1)" stroke-width="5.8" filter="url(#soft)"/>
<text x="190.3" y="192" font-size="9.5" fill="#1a1a1a" stroke="#1a1a1a" stroke-width="0.3" text-anchor="start" font-weight="bold" font-style="normal" >e</text>
<text x="269.6" y="192.8" font-size="8.3" fill="#2aa860" stroke="#2aa860" stroke-width="0.3" text-anchor="start" font-weight="normal" font-style="normal" >Right chiral</text>
<line x1="221.5" y1="198.4" x2="221.5" y2="332.3" stroke="#8c8c8c" stroke-width="1"/>
<line x1="221.5" y1="287.5" x2="359.4" y2="287.5" stroke="#8c8c8c" stroke-width="1"/>
<line x1="221.5" y1="331.8" x2="359.4" y2="331.8" stroke="#8c8c8c" stroke-width="1"/>
<line x1="256" y1="287.5" x2="256" y2="285.5" stroke="#8c8c8c" stroke-width="0.9"/>
<line x1="256" y1="331.8" x2="256" y2="329.8" stroke="#8c8c8c" stroke-width="0.9"/>
<line x1="290.6" y1="287.5" x2="290.6" y2="285.5" stroke="#8c8c8c" stroke-width="0.9"/>
<line x1="290.6" y1="331.8" x2="290.6" y2="329.8" stroke="#8c8c8c" stroke-width="0.9"/>
<line x1="325" y1="287.5" x2="325" y2="285.5" stroke="#8c8c8c" stroke-width="0.9"/>
<line x1="325" y1="331.8" x2="325" y2="329.8" stroke="#8c8c8c" stroke-width="0.9"/>
<line x1="359.2" y1="287.5" x2="359.2" y2="285.5" stroke="#8c8c8c" stroke-width="0.9"/>
<line x1="359.2" y1="331.8" x2="359.2" y2="329.8" stroke="#8c8c8c" stroke-width="0.9"/>
<line x1="221.5" y1="217.3" x2="223.5" y2="217.3" stroke="#8c8c8c" stroke-width="0.9"/>
<text x="218.3" y="220.3" font-size="8.3" fill="#141414" stroke="#141414" stroke-width="0.3" text-anchor="end" font-weight="normal" font-style="normal" >0.2</text>
<line x1="221.5" y1="242.5" x2="223.5" y2="242.5" stroke="#8c8c8c" stroke-width="0.9"/>
<text x="218.3" y="245.5" font-size="8.3" fill="#141414" stroke="#141414" stroke-width="0.3" text-anchor="end" font-weight="normal" font-style="normal" >0</text>
<line x1="221.5" y1="268" x2="223.5" y2="268" stroke="#8c8c8c" stroke-width="0.9"/>
<text x="218.3" y="271" font-size="8.3" fill="#141414" stroke="#141414" stroke-width="0.3" text-anchor="end" font-weight="normal" font-style="normal" >−0.2</text>
<line x1="221.5" y1="297.4" x2="223.5" y2="297.4" stroke="#8c8c8c" stroke-width="0.9"/>
<text x="218.3" y="300.4" font-size="8.3" fill="#141414" stroke="#141414" stroke-width="0.3" text-anchor="end" font-weight="normal" font-style="normal" >0.1</text>
<line x1="221.5" y1="310" x2="223.5" y2="310" stroke="#8c8c8c" stroke-width="0.9"/>
<text x="218.3" y="313" font-size="8.3" fill="#141414" stroke="#141414" stroke-width="0.3" text-anchor="end" font-weight="normal" font-style="normal" >0</text>
<line x1="221.5" y1="322.4" x2="223.5" y2="322.4" stroke="#8c8c8c" stroke-width="0.9"/>
<text x="218.3" y="325.4" font-size="8.3" fill="#141414" stroke="#141414" stroke-width="0.3" text-anchor="end" font-weight="normal" font-style="normal" >−0.1</text>
<text transform="translate(193.2,265.1) rotate(-90)" x="0" y="0" font-size="8.3" fill="#141414" stroke="#141414" stroke-width="0.18" text-anchor="middle" dominant-baseline="central">Photocurrent<tspan fill="#1aa4dc" stroke="#1aa4dc">||Q</tspan><tspan fill="#1aa4dc" stroke="#1aa4dc" font-size="5.5" font-style="italic" dy="1.5">y</tspan><tspan dy="-1.5"> (pA)</tspan></text>
<path d="M221.8 259.9 L222.66 262.14 L223.52 264.23 L224.37 266.17 L225.23 267.95 L226.09 269.59 L226.95 271.07 L227.81 272.41 L228.66 273.6 L229.52 274.64 L230.38 275.55 L231.24 276.31 L232.09 276.93 L232.95 277.41 L233.81 277.76 L234.67 277.97 L235.53 278.05 L236.38 277.99 L237.24 277.81 L238.1 277.5 L238.96 277.05 L239.82 276.49 L240.67 275.79 L241.53 274.98 L242.39 274.05 L243.25 273.01 L244.1 271.87 L244.96 270.65 L245.82 269.35 L246.68 267.99 L247.54 266.58 L248.39 265.14 L249.25 263.67 L250.11 262.18 L250.97 260.69 L251.83 259.2 L252.68 257.74 L253.54 256.3 L254.4 254.91 L255.26 253.58 L256.11 252.31 L256.97 251.11 L257.83 250.01 L258.69 249 L259.55 248.09 L260.4 247.27 L261.26 246.53 L262.12 245.89 L262.98 245.33 L263.84 244.85 L264.69 244.45 L265.55 244.12 L266.41 243.87 L267.27 243.69 L268.12 243.58 L268.98 243.53 L269.84 243.55 L270.7 243.63 L271.56 243.77 L272.41 243.96 L273.27 244.21 L274.13 244.51 L274.99 244.85 L275.85 245.24 L276.7 245.68 L277.56 246.15 L278.42 246.66 L279.28 247.21 L280.13 247.79 L280.99 248.4 L281.85 249.04 L282.71 249.7 L283.57 250.38 L284.42 251.09 L285.28 251.81 L286.14 252.55 L287 253.3 L287.86 254.05 L288.71 254.82 L289.57 255.59 L290.43 256.35 L291.29 257.11 L292.14 257.85 L293 258.56 L293.86 259.25 L294.72 259.89 L295.58 260.49 L296.43 261.03 L297.29 261.51 L298.15 261.92 L299.01 262.26 L299.87 262.51 L300.72 262.67 L301.58 262.74 L302.44 262.7 L303.3 262.54 L304.15 262.27 L305.01 261.87 L305.87 261.33 L306.73 260.65 L307.59 259.82 L308.44 258.84 L309.3 257.71 L310.16 256.44 L311.02 255.04 L311.88 253.54 L312.73 251.95 L313.59 250.28 L314.45 248.54 L315.31 246.76 L316.16 244.94 L317.02 243.09 L317.88 241.24 L318.74 239.4 L319.6 237.58 L320.45 235.8 L321.31 234.06 L322.17 232.4 L323.03 230.81 L323.89 229.3 L324.74 227.89 L325.6 226.57 L326.46 225.34 L327.32 224.21 L328.17 223.18 L329.03 222.25 L329.89 221.41 L330.75 220.69 L331.61 220.06 L332.46 219.55 L333.32 219.15 L334.18 218.85 L335.04 218.68 L335.9 218.61 L336.75 218.67 L337.61 218.85 L338.47 219.15 L339.33 219.57 L340.18 220.12 L341.04 220.8 L341.9 221.6 L342.76 222.55 L343.62 223.62 L344.47 224.83 L345.33 226.18 L346.19 227.64 L347.05 229.23 L347.91 230.93 L348.76 232.73 L349.62 234.63 L350.48 236.62 L351.34 238.69 L352.19 240.84 L353.05 243.05 L353.91 245.33 L354.77 247.66 L355.63 250.03 L356.48 252.45 L357.34 254.9 L358.2 257.37 L358.2 263.17 L357.34 260.7 L356.48 258.25 L355.63 255.83 L354.77 253.46 L353.91 251.13 L353.05 248.85 L352.19 246.64 L351.34 244.49 L350.48 242.42 L349.62 240.43 L348.76 238.53 L347.91 236.73 L347.05 235.03 L346.19 233.44 L345.33 231.98 L344.47 230.63 L343.62 229.42 L342.76 228.35 L341.9 227.4 L341.04 226.6 L340.18 225.92 L339.33 225.37 L338.47 224.95 L337.61 224.65 L336.75 224.47 L335.9 224.41 L335.04 224.48 L334.18 224.65 L333.32 224.95 L332.46 225.35 L331.61 225.86 L330.75 226.49 L329.89 227.21 L329.03 228.05 L328.17 228.98 L327.32 230.01 L326.46 231.14 L325.6 232.37 L324.74 233.69 L323.89 235.1 L323.03 236.61 L322.17 238.2 L321.31 239.86 L320.45 241.6 L319.6 243.38 L318.74 245.2 L317.88 247.04 L317.02 248.89 L316.16 250.74 L315.31 252.56 L314.45 254.34 L313.59 256.08 L312.73 257.75 L311.88 259.34 L311.02 260.84 L310.16 262.24 L309.3 263.51 L308.44 264.64 L307.59 265.62 L306.73 266.45 L305.87 267.13 L305.01 267.67 L304.15 268.07 L303.3 268.34 L302.44 268.5 L301.58 268.54 L300.72 268.47 L299.87 268.31 L299.01 268.06 L298.15 267.72 L297.29 267.31 L296.43 266.83 L295.58 266.29 L294.72 265.69 L293.86 265.05 L293 264.36 L292.14 263.65 L291.29 262.91 L290.43 262.15 L289.57 261.39 L288.71 260.62 L287.86 259.85 L287 259.1 L286.14 258.35 L285.28 257.61 L284.42 256.89 L283.57 256.18 L282.71 255.5 L281.85 254.84 L280.99 254.2 L280.13 253.59 L279.28 253.01 L278.42 252.46 L277.56 251.95 L276.7 251.48 L275.85 251.04 L274.99 250.65 L274.13 250.31 L273.27 250.01 L272.41 249.76 L271.56 249.57 L270.7 249.43 L269.84 249.35 L268.98 249.33 L268.12 249.38 L267.27 249.49 L266.41 249.67 L265.55 249.92 L264.69 250.25 L263.84 250.65 L262.98 251.13 L262.12 251.69 L261.26 252.33 L260.4 253.07 L259.55 253.89 L258.69 254.8 L257.83 255.81 L256.97 256.91 L256.11 258.11 L255.26 259.38 L254.4 260.71 L253.54 262.1 L252.68 263.54 L251.83 265 L250.97 266.49 L250.11 267.98 L249.25 269.47 L248.39 270.94 L247.54 272.38 L246.68 273.79 L245.82 275.15 L244.96 276.45 L244.1 277.67 L243.25 278.81 L242.39 279.85 L241.53 280.78 L240.67 281.59 L239.82 282.29 L238.96 282.85 L238.1 283.3 L237.24 283.61 L236.38 283.79 L235.53 283.85 L234.67 283.77 L233.81 283.56 L232.95 283.21 L232.09 282.73 L231.24 282.11 L230.38 281.35 L229.52 280.44 L228.66 279.4 L227.81 278.21 L226.95 276.87 L226.09 275.39 L225.23 273.75 L224.37 271.97 L223.52 270.03 L222.66 267.94 L221.8 265.7Z" fill="#ec6e12"/>
<path d="M221.8 262.8 L222.66 265.04 L223.52 267.13 L224.37 269.07 L225.23 270.85 L226.09 272.49 L226.95 273.97 L227.81 275.31 L228.66 276.5 L229.52 277.54 L230.38 278.45 L231.24 279.21 L232.09 279.83 L232.95 280.31 L233.81 280.66 L234.67 280.87 L235.53 280.95 L236.38 280.89 L237.24 280.71 L238.1 280.4 L238.96 279.95 L239.82 279.39 L240.67 278.69 L241.53 277.88 L242.39 276.95 L243.25 275.91 L244.1 274.77 L244.96 273.55 L245.82 272.25 L246.68 270.89 L247.54 269.48 L248.39 268.04 L249.25 266.57 L250.11 265.08 L250.97 263.59 L251.83 262.1 L252.68 260.64 L253.54 259.2 L254.4 257.81 L255.26 256.48 L256.11 255.21 L256.97 254.01 L257.83 252.91 L258.69 251.9 L259.55 250.99 L260.4 250.17 L261.26 249.43 L262.12 248.79 L262.98 248.23 L263.84 247.75 L264.69 247.35 L265.55 247.02 L266.41 246.77 L267.27 246.59 L268.12 246.48 L268.98 246.43 L269.84 246.45 L270.7 246.53 L271.56 246.67 L272.41 246.86 L273.27 247.11 L274.13 247.41 L274.99 247.75 L275.85 248.14 L276.7 248.58 L277.56 249.05 L278.42 249.56 L279.28 250.11 L280.13 250.69 L280.99 251.3 L281.85 251.94 L282.71 252.6 L283.57 253.28 L284.42 253.99 L285.28 254.71 L286.14 255.45 L287 256.2 L287.86 256.95 L288.71 257.72 L289.57 258.49 L290.43 259.25 L291.29 260.01 L292.14 260.75 L293 261.46 L293.86 262.15 L294.72 262.79 L295.58 263.39 L296.43 263.93 L297.29 264.41 L298.15 264.82 L299.01 265.16 L299.87 265.41 L300.72 265.57 L301.58 265.64 L302.44 265.6 L303.3 265.44 L304.15 265.17 L305.01 264.77 L305.87 264.23 L306.73 263.55 L307.59 262.72 L308.44 261.74 L309.3 260.61 L310.16 259.34 L311.02 257.94 L311.88 256.44 L312.73 254.85 L313.59 253.18 L314.45 251.44 L315.31 249.66 L316.16 247.84 L317.02 245.99 L317.88 244.14 L318.74 242.3 L319.6 240.48 L320.45 238.7 L321.31 236.96 L322.17 235.3 L323.03 233.71 L323.89 232.2 L324.74 230.79 L325.6 229.47 L326.46 228.24 L327.32 227.11 L328.17 226.08 L329.03 225.15 L329.89 224.31 L330.75 223.59 L331.61 222.96 L332.46 222.45 L333.32 222.05 L334.18 221.75 L335.04 221.58 L335.9 221.51 L336.75 221.57 L337.61 221.75 L338.47 222.05 L339.33 222.47 L340.18 223.02 L341.04 223.7 L341.9 224.5 L342.76 225.45 L343.62 226.52 L344.47 227.73 L345.33 229.08 L346.19 230.54 L347.05 232.13 L347.91 233.83 L348.76 235.63 L349.62 237.53 L350.48 239.52 L351.34 241.59 L352.19 243.74 L353.05 245.95 L353.91 248.23 L354.77 250.56 L355.63 252.93 L356.48 255.35 L357.34 257.8 L358.2 260.27" fill="none" stroke="#ec6e12" stroke-width="5.2"/>
<circle cx="304" cy="266.5" r="1.9" fill="#f8c48c" fill-opacity="0.9" stroke="#b86a30" stroke-width="0.8"/>
<circle cx="308" cy="262" r="1.9" fill="#f8c48c" fill-opacity="0.9" stroke="#b86a30" stroke-width="0.8"/>
<circle cx="312" cy="257" r="1.9" fill="#f8c48c" fill-opacity="0.9" stroke="#b86a30" stroke-width="0.8"/>
<circle cx="315" cy="252" r="1.9" fill="#f8c48c" fill-opacity="0.9" stroke="#b86a30" stroke-width="0.8"/>
<circle cx="318" cy="246" r="1.9" fill="#f8c48c" fill-opacity="0.9" stroke="#b86a30" stroke-width="0.8"/>
<circle cx="321" cy="239" r="1.9" fill="#f8c48c" fill-opacity="0.9" stroke="#b86a30" stroke-width="0.8"/>
<circle cx="323.5" cy="232" r="1.9" fill="#f8c48c" fill-opacity="0.9" stroke="#b86a30" stroke-width="0.8"/>
<circle cx="249" cy="266" r="1.9" fill="#f8c48c" fill-opacity="0.9" stroke="#b86a30" stroke-width="0.8"/>
<circle cx="252" cy="262" r="1.9" fill="#f8c48c" fill-opacity="0.9" stroke="#b86a30" stroke-width="0.8"/>
<circle cx="255" cy="258" r="1.9" fill="#f8c48c" fill-opacity="0.9" stroke="#b86a30" stroke-width="0.8"/>
<circle cx="262" cy="249" r="1.9" fill="#f8c48c" fill-opacity="0.9" stroke="#b86a30" stroke-width="0.8"/>
<circle cx="266" cy="246.5" r="1.9" fill="#f8c48c" fill-opacity="0.9" stroke="#b86a30" stroke-width="0.8"/>
<circle cx="277" cy="248" r="1.9" fill="#f8c48c" fill-opacity="0.9" stroke="#b86a30" stroke-width="0.8"/>
<circle cx="280" cy="251" r="1.9" fill="#f8c48c" fill-opacity="0.9" stroke="#b86a30" stroke-width="0.8"/>
<circle cx="284" cy="255.5" r="1.9" fill="#f8c48c" fill-opacity="0.9" stroke="#b86a30" stroke-width="0.8"/>
<circle cx="288" cy="259" r="1.9" fill="#f8c48c" fill-opacity="0.9" stroke="#b86a30" stroke-width="0.8"/>
<circle cx="292" cy="263.5" r="1.9" fill="#f8c48c" fill-opacity="0.9" stroke="#b86a30" stroke-width="0.8"/>
<circle cx="226" cy="268" r="1.9" fill="#f8c48c" fill-opacity="0.9" stroke="#b86a30" stroke-width="0.8"/>
<circle cx="232" cy="274" r="1.9" fill="#f8c48c" fill-opacity="0.9" stroke="#b86a30" stroke-width="0.8"/>
<circle cx="244" cy="273" r="1.9" fill="#f8c48c" fill-opacity="0.9" stroke="#b86a30" stroke-width="0.8"/>
<circle cx="300" cy="269" r="1.9" fill="#f8c48c" fill-opacity="0.9" stroke="#b86a30" stroke-width="0.8"/>
<circle cx="331" cy="221" r="1.9" fill="#f8c48c" fill-opacity="0.9" stroke="#b86a30" stroke-width="0.8"/>
<circle cx="336" cy="219.5" r="1.9" fill="#f8c48c" fill-opacity="0.9" stroke="#b86a30" stroke-width="0.8"/>
<circle cx="341" cy="222" r="1.9" fill="#f8c48c" fill-opacity="0.9" stroke="#b86a30" stroke-width="0.8"/>
<circle cx="346" cy="228" r="1.9" fill="#f8c48c" fill-opacity="0.9" stroke="#b86a30" stroke-width="0.8"/>
<circle cx="352" cy="240" r="1.9" fill="#f8c48c" fill-opacity="0.9" stroke="#b86a30" stroke-width="0.8"/>
<circle cx="355.5" cy="247" r="1.9" fill="#f8c48c" fill-opacity="0.9" stroke="#b86a30" stroke-width="0.8"/>
<circle cx="222.8" cy="260.6" r="1.9" fill="#f8c48c" fill-opacity="0.9" stroke="#b86a30" stroke-width="0.8"/>
<circle cx="224.5" cy="264.7" r="1.9" fill="#f8c48c" fill-opacity="0.9" stroke="#b86a30" stroke-width="0.8"/>
<circle cx="227.7" cy="268.7" r="1.9" fill="#f8c48c" fill-opacity="0.9" stroke="#b86a30" stroke-width="0.8"/>
<circle cx="230.9" cy="271.1" r="1.9" fill="#f8c48c" fill-opacity="0.9" stroke="#b86a30" stroke-width="0.8"/>
<circle cx="234.1" cy="272.7" r="1.9" fill="#f8c48c" fill-opacity="0.9" stroke="#b86a30" stroke-width="0.8"/>
<circle cx="237.4" cy="273.5" r="1.9" fill="#f8c48c" fill-opacity="0.9" stroke="#b86a30" stroke-width="0.8"/>
<circle cx="239" cy="272.7" r="1.9" fill="#f8c48c" fill-opacity="0.9" stroke="#b86a30" stroke-width="0.8"/>
<circle cx="239.8" cy="267.1" r="1.9" fill="#f8c48c" fill-opacity="0.9" stroke="#b86a30" stroke-width="0.8"/>
<circle cx="243.8" cy="268.7" r="1.9" fill="#f8c48c" fill-opacity="0.9" stroke="#b86a30" stroke-width="0.8"/>
<circle cx="246.2" cy="271.1" r="1.9" fill="#f8c48c" fill-opacity="0.9" stroke="#b86a30" stroke-width="0.8"/>
<circle cx="247.8" cy="269.5" r="1.9" fill="#f8c48c" fill-opacity="0.9" stroke="#b86a30" stroke-width="0.8"/>
<circle cx="250.3" cy="259.8" r="1.9" fill="#f8c48c" fill-opacity="0.9" stroke="#b86a30" stroke-width="0.8"/>
<circle cx="251.9" cy="267.9" r="1.9" fill="#f8c48c" fill-opacity="0.9" stroke="#b86a30" stroke-width="0.8"/>
<circle cx="255.1" cy="257.4" r="1.9" fill="#f8c48c" fill-opacity="0.9" stroke="#b86a30" stroke-width="0.8"/>
<circle cx="258.3" cy="254.2" r="1.9" fill="#f8c48c" fill-opacity="0.9" stroke="#b86a30" stroke-width="0.8"/>
<circle cx="261.5" cy="249.4" r="1.9" fill="#f8c48c" fill-opacity="0.9" stroke="#b86a30" stroke-width="0.8"/>
<circle cx="263.2" cy="245.3" r="1.9" fill="#f8c48c" fill-opacity="0.9" stroke="#b86a30" stroke-width="0.8"/>
<circle cx="265.6" cy="247.7" r="1.9" fill="#f8c48c" fill-opacity="0.9" stroke="#b86a30" stroke-width="0.8"/>
<circle cx="269.6" cy="251" r="1.9" fill="#f8c48c" fill-opacity="0.9" stroke="#b86a30" stroke-width="0.8"/>
<circle cx="272.8" cy="252.6" r="1.9" fill="#f8c48c" fill-opacity="0.9" stroke="#b86a30" stroke-width="0.8"/>
<circle cx="274.5" cy="258.2" r="1.9" fill="#f8c48c" fill-opacity="0.9" stroke="#b86a30" stroke-width="0.8"/>
<circle cx="278.5" cy="259" r="1.9" fill="#f8c48c" fill-opacity="0.9" stroke="#b86a30" stroke-width="0.8"/>
<circle cx="279.3" cy="263.1" r="1.9" fill="#f8c48c" fill-opacity="0.9" stroke="#b86a30" stroke-width="0.8"/>
<circle cx="282.5" cy="255.8" r="1.9" fill="#f8c48c" fill-opacity="0.9" stroke="#b86a30" stroke-width="0.8"/>
<circle cx="284.1" cy="261.5" r="1.9" fill="#f8c48c" fill-opacity="0.9" stroke="#b86a30" stroke-width="0.8"/>
<circle cx="286.5" cy="257.4" r="1.9" fill="#f8c48c" fill-opacity="0.9" stroke="#b86a30" stroke-width="0.8"/>
<circle cx="287.4" cy="267.9" r="1.9" fill="#f8c48c" fill-opacity="0.9" stroke="#b86a30" stroke-width="0.8"/>
<circle cx="290.6" cy="273.5" r="1.9" fill="#f8c48c" fill-opacity="0.9" stroke="#b86a30" stroke-width="0.8"/>
<circle cx="293.8" cy="270.3" r="1.9" fill="#f8c48c" fill-opacity="0.9" stroke="#b86a30" stroke-width="0.8"/>
<circle cx="297" cy="272.7" r="1.9" fill="#f8c48c" fill-opacity="0.9" stroke="#b86a30" stroke-width="0.8"/>
<circle cx="300" cy="272.7" r="1.9" fill="#f8c48c" fill-opacity="0.9" stroke="#b86a30" stroke-width="0.8"/>
<circle cx="303.8" cy="275.2" r="1.9" fill="#f8c48c" fill-opacity="0.9" stroke="#b86a30" stroke-width="0.8"/>
<circle cx="307.5" cy="260.2" r="1.9" fill="#f8c48c" fill-opacity="0.9" stroke="#b86a30" stroke-width="0.8"/>
<circle cx="315" cy="260.2" r="1.9" fill="#f8c48c" fill-opacity="0.9" stroke="#b86a30" stroke-width="0.8"/>
<circle cx="317.6" cy="252.6" r="1.9" fill="#f8c48c" fill-opacity="0.9" stroke="#b86a30" stroke-width="0.8"/>
<circle cx="321.3" cy="240.1" r="1.9" fill="#f8c48c" fill-opacity="0.9" stroke="#b86a30" stroke-width="0.8"/>
<circle cx="325.1" cy="235.1" r="1.9" fill="#f8c48c" fill-opacity="0.9" stroke="#b86a30" stroke-width="0.8"/>
<circle cx="327.6" cy="222.6" r="1.9" fill="#f8c48c" fill-opacity="0.9" stroke="#b86a30" stroke-width="0.8"/>
<circle cx="326.3" cy="218.8" r="1.9" fill="#f8c48c" fill-opacity="0.9" stroke="#b86a30" stroke-width="0.8"/>
<circle cx="332.6" cy="215" r="1.9" fill="#f8c48c" fill-opacity="0.9" stroke="#b86a30" stroke-width="0.8"/>
<circle cx="337.6" cy="209.5" r="1.9" fill="#f8c48c" fill-opacity="0.9" stroke="#b86a30" stroke-width="0.8"/>
<circle cx="340.1" cy="217.5" r="1.9" fill="#f8c48c" fill-opacity="0.9" stroke="#b86a30" stroke-width="0.8"/>
<circle cx="343.9" cy="218.8" r="1.9" fill="#f8c48c" fill-opacity="0.9" stroke="#b86a30" stroke-width="0.8"/>
<circle cx="347.6" cy="225.1" r="1.9" fill="#f8c48c" fill-opacity="0.9" stroke="#b86a30" stroke-width="0.8"/>
<circle cx="350.2" cy="230.1" r="1.9" fill="#f8c48c" fill-opacity="0.9" stroke="#b86a30" stroke-width="0.8"/>
<circle cx="353.9" cy="240.1" r="1.9" fill="#f8c48c" fill-opacity="0.9" stroke="#b86a30" stroke-width="0.8"/>
<circle cx="357.7" cy="246.4" r="1.9" fill="#f8c48c" fill-opacity="0.9" stroke="#b86a30" stroke-width="0.8"/>
<circle cx="328.5" cy="215.5" r="1.9" fill="#f8c48c" fill-opacity="0.9" stroke="#b86a30" stroke-width="0.8"/>
<circle cx="333.4" cy="213.9" r="1.9" fill="#f8c48c" fill-opacity="0.9" stroke="#b86a30" stroke-width="0.8"/>
<circle cx="336.5" cy="213.9" r="1.9" fill="#f8c48c" fill-opacity="0.9" stroke="#b86a30" stroke-width="0.8"/>
<circle cx="326.7" cy="218.8" r="1.9" fill="#f8c48c" fill-opacity="0.9" stroke="#b86a30" stroke-width="0.8"/>
<circle cx="344.1" cy="218.6" r="1.9" fill="#f8c48c" fill-opacity="0.9" stroke="#b86a30" stroke-width="0.8"/>
<circle cx="325.4" cy="224.2" r="1.9" fill="#f8c48c" fill-opacity="0.9" stroke="#b86a30" stroke-width="0.8"/>
<circle cx="347.2" cy="224.2" r="1.9" fill="#f8c48c" fill-opacity="0.9" stroke="#b86a30" stroke-width="0.8"/>
<circle cx="349" cy="230.9" r="1.9" fill="#f8c48c" fill-opacity="0.9" stroke="#b86a30" stroke-width="0.8"/>
<path d="M222.5 310.19 L223.64 310.85 L224.77 311.51 L225.91 312.16 L227.04 312.81 L228.18 313.45 L229.31 314.08 L230.45 314.69 L231.58 315.3 L232.72 315.89 L233.86 316.46 L234.99 317.02 L236.13 317.55 L237.26 318.07 L238.4 318.56 L239.53 319.03 L240.67 319.47 L241.81 319.89 L242.94 320.28 L244.08 320.64 L245.21 320.97 L246.35 321.27 L247.48 321.54 L248.62 321.77 L249.75 321.98 L250.89 322.15 L252.03 322.29 L253.16 322.39 L254.3 322.46 L255.43 322.5 L256.57 322.5 L257.7 322.46 L258.84 322.39 L259.97 322.29 L261.11 322.15 L262.25 321.98 L263.38 321.77 L264.52 321.54 L265.65 321.27 L266.79 320.97 L267.92 320.64 L269.06 320.28 L270.19 319.89 L271.33 319.47 L272.47 319.03 L273.6 318.56 L274.74 318.07 L275.87 317.55 L277.01 317.02 L278.14 316.46 L279.28 315.89 L280.42 315.3 L281.55 314.69 L282.69 314.08 L283.82 313.45 L284.96 312.81 L286.09 312.16 L287.23 311.51 L288.36 310.85 L289.5 310.19" fill="none" stroke="url(#gB2)" stroke-width="5.8" filter="url(#soft)"/>
<path d="M290.5 309.6 L291.66 308.89 L292.82 308.19 L293.97 307.49 L295.13 306.8 L296.29 306.12 L297.45 305.45 L298.6 304.79 L299.76 304.15 L300.92 303.52 L302.08 302.91 L303.23 302.32 L304.39 301.76 L305.55 301.21 L306.71 300.69 L307.86 300.2 L309.02 299.74 L310.18 299.3 L311.34 298.9 L312.49 298.52 L313.65 298.18 L314.81 297.87 L315.97 297.6 L317.13 297.36 L318.28 297.16 L319.44 296.99 L320.6 296.86 L321.76 296.77 L322.91 296.72 L324.07 296.7 L325.23 296.72 L326.39 296.78 L327.54 296.88 L328.7 297.01 L329.86 297.18 L331.02 297.39 L332.17 297.63 L333.33 297.91 L334.49 298.22 L335.65 298.57 L336.81 298.94 L337.96 299.35 L339.12 299.79 L340.28 300.26 L341.44 300.76 L342.59 301.28 L343.75 301.82 L344.91 302.39 L346.07 302.99 L347.22 303.6 L348.38 304.23 L349.54 304.87 L350.7 305.53 L351.85 306.2 L353.01 306.88 L354.17 307.58 L355.33 308.27 L356.48 308.98 L357.64 309.68 L358.8 310.39" fill="none" stroke="url(#gR2)" stroke-width="5.8" filter="url(#soft)"/>
<text x="341.4" y="24" font-size="8.2" fill="#141414" stroke="#141414" stroke-width="0.25" font-style="italic">I</text>
<text x="344" y="26.6" font-size="6.5" fill="#141414" stroke="#141414" stroke-width="0.2" textLength="12" lengthAdjust="spacingAndGlyphs">total</text>
<text x="336.8" y="113.2" font-size="8.2" fill="#141414" stroke="#141414" stroke-width="0.25" font-style="italic">I</text>
<text x="339.4" y="115.6" font-size="6.5" fill="#141414" stroke="#141414" stroke-width="0.2" textLength="16.2" lengthAdjust="spacingAndGlyphs">CPGE</text>
<text x="341.2" y="278.4" font-size="8.2" fill="#141414" stroke="#141414" stroke-width="0.25" font-style="italic">I</text>
<text x="343.8" y="281" font-size="6.5" fill="#141414" stroke="#141414" stroke-width="0.2" textLength="12" lengthAdjust="spacingAndGlyphs">total</text>
<text x="337" y="324" font-size="8.2" fill="#141414" stroke="#141414" stroke-width="0.25" font-style="italic">I</text>
<text x="339.6" y="326.8" font-size="6.5" fill="#141414" stroke="#141414" stroke-width="0.2" textLength="16.2" lengthAdjust="spacingAndGlyphs">CPGE</text>
<line x1="221.3" y1="150.6" x2="221.3" y2="159.2" stroke="#2a2a2a" stroke-width="1.2"/>
<path d="M221.3 148.6 L219.4 152.2 L223.2 152.2Z" fill="#2a2a2a"/>
<path d="M221.3 161.2 L219.4 157.6 L223.2 157.6Z" fill="#2a2a2a"/>
<line x1="290.4" y1="150.6" x2="290.4" y2="159.2" stroke="#2a2a2a" stroke-width="1.2"/>
<path d="M290.4 148.6 L288.5 152.2 L292.3 152.2Z" fill="#2a2a2a"/>
<path d="M290.4 161.2 L288.5 157.6 L292.3 157.6Z" fill="#2a2a2a"/>
<line x1="359.2" y1="150.6" x2="359.2" y2="159.2" stroke="#2a2a2a" stroke-width="1.2"/>
<path d="M359.2 148.6 L357.3 152.2 L361.1 152.2Z" fill="#2a2a2a"/>
<path d="M359.2 161.2 L357.3 157.6 L361.1 157.6Z" fill="#2a2a2a"/>
<path d="M256.4 150.1 A4.9 4.9 0 1 0 259.86 157.74" fill="none" stroke="#1e1e1e" stroke-width="1.3"/>
<path d="M261.54 155.25 L261.16 159.58 L257.67 157.23Z" fill="#1e1e1e"/>
<path d="M324.1 149.7 A4.9 4.9 0 1 1 320.64 157.34" fill="none" stroke="#1e1e1e" stroke-width="1.3"/>
<path d="M318.96 154.85 L322.83 156.83 L319.34 159.18Z" fill="#1e1e1e"/>
<text x="269.3" y="171.1" font-size="8.2" fill="#1a1a1a" stroke="#1a1a1a" stroke-width="0.3" text-anchor="start" font-weight="normal" font-style="normal" >Polarization</text>
<text x="380" y="7.2" font-size="9.5" fill="#1a1a1a" stroke="#1a1a1a" stroke-width="0.3" text-anchor="start" font-weight="bold" font-style="normal" >c</text>
<text x="431.6" y="7.2" font-size="8.3" fill="#b096b4" stroke="#b096b4" stroke-width="0.3" text-anchor="start" font-weight="normal" font-style="normal" >Left chiral</text>
<path d="M510 11.3 L381 11.3 L381 145.7 L510 145.7" fill="none" stroke="#3c3c3c" stroke-width="1.3"/>
<line x1="449.5" y1="17" x2="449.5" y2="145.7" stroke="#333" stroke-width="1.2"/>
<path d="M449.5 15 L447.8 18.5 L451.2 18.5Z" fill="#2a2a2a"/>
<line x1="381" y1="94" x2="510" y2="94" stroke="#1a1a1a" stroke-width="1.1"/>
<circle cx="449.5" cy="94" r="1.5" fill="#1a1a1a"/>
<text x="454" y="22.3" font-size="8.3" fill="#141414" stroke="#141414" stroke-width="0.3" text-anchor="start" font-weight="normal" font-style="italic" >E</text>
<text x="452.5" y="103.3" font-size="8" fill="#141414" stroke="#141414" stroke-width="0.3" text-anchor="start" font-weight="normal" font-style="italic" >Γ</text>
<text x="496.5" y="103.3" font-size="8.3" fill="#141414" stroke="#141414" stroke-width="0.3" text-anchor="start" font-weight="normal" font-style="italic" >k</text>
<path d="M396 26.4 L397.43 28.56 L398.86 30.7 L400.29 32.81 L401.71 34.89 L403.14 36.93 L404.57 38.94 L406 40.91 L407.43 42.83 L408.86 44.69 L410.29 46.51 L411.71 48.26 L413.14 49.94 L414.57 51.54 L416 53.06 L417.43 54.49 L418.86 55.81 L420.29 57.03 L421.71 58.12 L423.14 59.07 L424.57 59.89 L426 60.56 L427.43 61.06 L428.86 61.41 L430.29 61.58 L431.71 61.58 L433.14 61.41 L434.57 61.06 L436 60.56 L437.43 59.89 L438.86 59.07 L440.29 58.12 L441.71 57.03 L443.14 55.81 L444.57 54.49 L446 53.06 L447.43 51.54 L448.86 49.94 L450.29 48.26 L451.71 46.51 L453.14 44.69 L454.57 42.83 L456 40.91 L457.43 38.94 L458.86 36.93 L460.29 34.89 L461.71 32.81 L463.14 30.7 L464.57 28.56 L466 26.4" fill="none" stroke="#2a9cc6" stroke-width="2.8" stroke-linejoin="round" stroke-linecap="round" stroke-linecap="butt"/>
<path d="M434.8 26.4 L436.23 28.56 L437.66 30.7 L439.09 32.81 L440.51 34.89 L441.94 36.93 L443.37 38.94 L444.8 40.91 L446.23 42.83 L447.66 44.69 L449.09 46.51 L450.51 48.26 L451.94 49.94 L453.37 51.54 L454.8 53.06 L456.23 54.49 L457.66 55.81 L459.09 57.03 L460.51 58.12 L461.94 59.07 L463.37 59.89 L464.8 60.56 L466.23 61.06 L467.66 61.41 L469.09 61.58 L470.51 61.58 L471.94 61.41 L473.37 61.06 L474.8 60.56 L476.23 59.89 L477.66 59.07 L479.09 58.12 L480.51 57.03 L481.94 55.81 L483.37 54.49 L484.8 53.06 L486.23 51.54 L487.66 49.94 L489.09 48.26 L490.51 46.51 L491.94 44.69 L493.37 42.83 L494.8 40.91 L496.23 38.94 L497.66 36.93 L499.09 34.89 L500.51 32.81 L501.94 30.7 L503.37 28.56 L504.8 26.4" fill="none" stroke="#dca676" stroke-width="2.8" stroke-linejoin="round" stroke-linecap="round" stroke-linecap="butt"/>
<circle cx="411.6" cy="48.12" r="1.6" fill="#1a2a3a"/>
<circle cx="416.2" cy="53.27" r="1.6" fill="#1a2a3a"/>
<circle cx="421.4" cy="57.89" r="1.6" fill="#1a2a3a"/>
<circle cx="477.4" cy="59.23" r="1.6" fill="#1a2a3a"/>
<circle cx="482.4" cy="55.4" r="1.6" fill="#1a2a3a"/>
<circle cx="487.6" cy="50" r="1.6" fill="#1a2a3a"/>
<path d="M390.9 142.4 L392.2 138.88 L393.51 135.55 L394.81 132.4 L396.11 129.44 L397.41 126.66 L398.72 124.07 L400.02 121.66 L401.32 119.44 L402.62 117.41 L403.93 115.55 L405.23 113.89 L406.53 112.41 L407.83 111.11 L409.14 110 L410.44 109.07 L411.74 108.33 L413.04 107.78 L414.35 107.41 L415.65 107.22 L416.95 107.22 L418.25 107.41 L419.56 107.78 L420.86 108.33 L422.16 109.07 L423.46 110 L424.77 111.11 L426.07 112.41 L427.37 113.89 L428.67 115.55 L429.98 117.41 L431.28 119.44 L432.58 121.66 L433.88 124.07 L435.19 126.66 L436.49 129.44 L437.79 132.4 L439.09 135.55 L440.4 138.88 L441.7 142.4" fill="none" stroke="#f29040" stroke-width="2.8" stroke-linejoin="round" stroke-linecap="round" stroke-linecap="butt"/>
<path d="M457.2 142.4 L458.5 138.88 L459.81 135.55 L461.11 132.4 L462.41 129.44 L463.71 126.66 L465.02 124.07 L466.32 121.66 L467.62 119.44 L468.92 117.41 L470.23 115.55 L471.53 113.89 L472.83 112.41 L474.13 111.11 L475.44 110 L476.74 109.07 L478.04 108.33 L479.34 107.78 L480.65 107.41 L481.95 107.22 L483.25 107.22 L484.55 107.41 L485.86 107.78 L487.16 108.33 L488.46 109.07 L489.76 110 L491.07 111.11 L492.37 112.41 L493.67 113.89 L494.97 115.55 L496.28 117.41 L497.58 119.44 L498.88 121.66 L500.18 124.07 L501.49 126.66 L502.79 129.44 L504.09 132.4 L505.39 135.55 L506.7 138.88 L508 142.4" fill="none" stroke="#2a9cc6" stroke-width="2.8" stroke-linejoin="round" stroke-linecap="round" stroke-linecap="butt"/>
<line x1="416.3" y1="105" x2="416.3" y2="71.08" stroke="#1a1a1a" stroke-width="1.1"/>
<path d="M416.3 68.2 L414.5 71.8 L418.1 71.8Z" fill="#1a1a1a"/>
<circle cx="410.6" cy="108.6" r="1.6" fill="#ffffff" stroke="#3a3a3a" stroke-width="0.7"/>
<circle cx="416.3" cy="107.2" r="1.6" fill="#ffffff" stroke="#3a3a3a" stroke-width="0.7"/>
<circle cx="422" cy="108.6" r="1.6" fill="#ffffff" stroke="#3a3a3a" stroke-width="0.7"/>
<line x1="482.6" y1="105" x2="482.6" y2="71.08" stroke="#1a1a1a" stroke-width="1.1"/>
<path d="M482.6 68.2 L480.8 71.8 L484.4 71.8Z" fill="#1a1a1a"/>
<circle cx="476.9" cy="108.6" r="1.6" fill="#ffffff" stroke="#3a3a3a" stroke-width="0.7"/>
<circle cx="482.6" cy="107.2" r="1.6" fill="#ffffff" stroke="#3a3a3a" stroke-width="0.7"/>
<circle cx="488.3" cy="108.6" r="1.6" fill="#ffffff" stroke="#3a3a3a" stroke-width="0.7"/>
<path d="M427.4 81.4 A4.9 4.9 0 1 0 430.86 89.04" fill="none" stroke="#1e1e1e" stroke-width="1.3"/>
<path d="M432.54 86.55 L432.16 90.88 L428.67 88.53Z" fill="#1e1e1e"/>
<path d="M471.7 81.4 A4.9 4.9 0 1 1 468.24 89.04" fill="none" stroke="#1e1e1e" stroke-width="1.3"/>
<path d="M466.56 86.55 L470.43 88.53 L466.94 90.88Z" fill="#1e1e1e"/>
<line x1="404" y1="25" x2="404" y2="31.1" stroke="#2a9cc6" stroke-width="1.0"/>
<path d="M404 33.5 L402.5 30.5 L405.5 30.5Z" fill="#2a9cc6"/>
<line x1="492.8" y1="35" x2="492.8" y2="28.9" stroke="#f29040" stroke-width="1.0"/>
<path d="M492.8 26.5 L491.3 29.5 L494.3 29.5Z" fill="#f29040"/>
<line x1="400.6" y1="142.3" x2="400.6" y2="136.4" stroke="#f29040" stroke-width="1.0"/>
<path d="M400.6 134 L399.1 137 L402.1 137Z" fill="#f29040"/>
<line x1="496.5" y1="133" x2="496.5" y2="139.6" stroke="#2a9cc6" stroke-width="1.0"/>
<path d="M496.5 142 L495 139 L498 139Z" fill="#2a9cc6"/>
<line x1="387" y1="56" x2="399" y2="56" stroke="#f03c24" stroke-width="1.3"/>
<path d="M401.6 56 L395.8 53.4 L397.4 56 L395.8 58.6Z" fill="#f03c24"/>
<text x="388.4" y="66.1" font-size="7.8" fill="#141414" stroke="#141414" stroke-width="0.25" font-style="italic">I</text>
<text x="391" y="68.2" font-size="6" fill="#141414" stroke="#141414" stroke-width="0.2" textLength="14.3" lengthAdjust="spacingAndGlyphs">CPGE</text>
<path d="M500 53.6 L496 56 L500 58.4Z" fill="#40b8ea"/>
<text x="497" y="66" font-size="8" fill="#141414" stroke="#141414" stroke-width="0.3" text-anchor="start" font-weight="normal" font-style="italic" >I</text>
<text x="380" y="192.2" font-size="9.5" fill="#1a1a1a" stroke="#1a1a1a" stroke-width="0.3" text-anchor="start" font-weight="bold" font-style="normal" >f</text>
<text x="429.2" y="192.8" font-size="8.3" fill="#2aa860" stroke="#2aa860" stroke-width="0.3" text-anchor="start" font-weight="normal" font-style="normal" >Right chiral</text>
<path d="M510 197.8 L381 197.8 L381 332.2 L510 332.2" fill="none" stroke="#3c3c3c" stroke-width="1.3"/>
<line x1="449.5" y1="203.5" x2="449.5" y2="332.2" stroke="#333" stroke-width="1.2"/>
<path d="M449.5 201.5 L447.8 205 L451.2 205Z" fill="#2a2a2a"/>
<line x1="381" y1="280.5" x2="510" y2="280.5" stroke="#1a1a1a" stroke-width="1.1"/>
<circle cx="449.5" cy="280.5" r="1.5" fill="#1a1a1a"/>
<text x="454" y="208.8" font-size="8.3" fill="#141414" stroke="#141414" stroke-width="0.3" text-anchor="start" font-weight="normal" font-style="italic" >E</text>
<text x="452.5" y="289.8" font-size="8" fill="#141414" stroke="#141414" stroke-width="0.3" text-anchor="start" font-weight="normal" font-style="italic" >Γ</text>
<text x="496.5" y="289.8" font-size="8.3" fill="#141414" stroke="#141414" stroke-width="0.3" text-anchor="start" font-weight="normal" font-style="italic" >k</text>
<path d="M396 212.9 L397.43 215.06 L398.86 217.2 L400.29 219.31 L401.71 221.39 L403.14 223.43 L404.57 225.44 L406 227.41 L407.43 229.33 L408.86 231.19 L410.29 233.01 L411.71 234.76 L413.14 236.44 L414.57 238.04 L416 239.56 L417.43 240.99 L418.86 242.31 L420.29 243.53 L421.71 244.62 L423.14 245.57 L424.57 246.39 L426 247.06 L427.43 247.56 L428.86 247.91 L430.29 248.08 L431.71 248.08 L433.14 247.91 L434.57 247.56 L436 247.06 L437.43 246.39 L438.86 245.57 L440.29 244.62 L441.71 243.53 L443.14 242.31 L444.57 240.99 L446 239.56 L447.43 238.04 L448.86 236.44 L450.29 234.76 L451.71 233.01 L453.14 231.19 L454.57 229.33 L456 227.41 L457.43 225.44 L458.86 223.43 L460.29 221.39 L461.71 219.31 L463.14 217.2 L464.57 215.06 L466 212.9" fill="none" stroke="#f29040" stroke-width="2.8" stroke-linejoin="round" stroke-linecap="round" stroke-linecap="butt"/>
<path d="M434.8 212.9 L436.23 215.06 L437.66 217.2 L439.09 219.31 L440.51 221.39 L441.94 223.43 L443.37 225.44 L444.8 227.41 L446.23 229.33 L447.66 231.19 L449.09 233.01 L450.51 234.76 L451.94 236.44 L453.37 238.04 L454.8 239.56 L456.23 240.99 L457.66 242.31 L459.09 243.53 L460.51 244.62 L461.94 245.57 L463.37 246.39 L464.8 247.06 L466.23 247.56 L467.66 247.91 L469.09 248.08 L470.51 248.08 L471.94 247.91 L473.37 247.56 L474.8 247.06 L476.23 246.39 L477.66 245.57 L479.09 244.62 L480.51 243.53 L481.94 242.31 L483.37 240.99 L484.8 239.56 L486.23 238.04 L487.66 236.44 L489.09 234.76 L490.51 233.01 L491.94 231.19 L493.37 229.33 L494.8 227.41 L496.23 225.44 L497.66 223.43 L499.09 221.39 L500.51 219.31 L501.94 217.2 L503.37 215.06 L504.8 212.9" fill="none" stroke="#2a9cc6" stroke-width="2.8" stroke-linejoin="round" stroke-linecap="round" stroke-linecap="butt"/>
<circle cx="411.6" cy="234.62" r="1.6" fill="#1a2a3a"/>
<circle cx="416.2" cy="239.77" r="1.6" fill="#1a2a3a"/>
<circle cx="421.4" cy="244.39" r="1.6" fill="#1a2a3a"/>
<circle cx="477.4" cy="245.73" r="1.6" fill="#1a2a3a"/>
<circle cx="482.4" cy="241.9" r="1.6" fill="#1a2a3a"/>
<circle cx="487.6" cy="236.5" r="1.6" fill="#1a2a3a"/>
<path d="M390.9 328.9 L392.2 325.38 L393.51 322.05 L394.81 318.9 L396.11 315.94 L397.41 313.16 L398.72 310.57 L400.02 308.16 L401.32 305.94 L402.62 303.91 L403.93 302.05 L405.23 300.39 L406.53 298.91 L407.83 297.61 L409.14 296.5 L410.44 295.57 L411.74 294.83 L413.04 294.28 L414.35 293.91 L415.65 293.72 L416.95 293.72 L418.25 293.91 L419.56 294.28 L420.86 294.83 L422.16 295.57 L423.46 296.5 L424.77 297.61 L426.07 298.91 L427.37 300.39 L428.67 302.05 L429.98 303.91 L431.28 305.94 L432.58 308.16 L433.88 310.57 L435.19 313.16 L436.49 315.94 L437.79 318.9 L439.09 322.05 L440.4 325.38 L441.7 328.9" fill="none" stroke="#2a9cc6" stroke-width="2.8" stroke-linejoin="round" stroke-linecap="round" stroke-linecap="butt"/>
<path d="M457.2 328.9 L458.5 325.38 L459.81 322.05 L461.11 318.9 L462.41 315.94 L463.71 313.16 L465.02 310.57 L466.32 308.16 L467.62 305.94 L468.92 303.91 L470.23 302.05 L471.53 300.39 L472.83 298.91 L474.13 297.61 L475.44 296.5 L476.74 295.57 L478.04 294.83 L479.34 294.28 L480.65 293.91 L481.95 293.72 L483.25 293.72 L484.55 293.91 L485.86 294.28 L487.16 294.83 L488.46 295.57 L489.76 296.5 L491.07 297.61 L492.37 298.91 L493.67 300.39 L494.97 302.05 L496.28 303.91 L497.58 305.94 L498.88 308.16 L500.18 310.57 L501.49 313.16 L502.79 315.94 L504.09 318.9 L505.39 322.05 L506.7 325.38 L508 328.9" fill="none" stroke="#e0aa7c" stroke-width="2.8" stroke-linejoin="round" stroke-linecap="round" stroke-linecap="butt"/>
<line x1="416.3" y1="291.5" x2="416.3" y2="257.58" stroke="#1a1a1a" stroke-width="1.1"/>
<path d="M416.3 254.7 L414.5 258.3 L418.1 258.3Z" fill="#1a1a1a"/>
<circle cx="410.6" cy="295.1" r="1.6" fill="#ffffff" stroke="#3a3a3a" stroke-width="0.7"/>
<circle cx="416.3" cy="293.7" r="1.6" fill="#ffffff" stroke="#3a3a3a" stroke-width="0.7"/>
<circle cx="422" cy="295.1" r="1.6" fill="#ffffff" stroke="#3a3a3a" stroke-width="0.7"/>
<line x1="482.6" y1="291.5" x2="482.6" y2="257.58" stroke="#1a1a1a" stroke-width="1.1"/>
<path d="M482.6 254.7 L480.8 258.3 L484.4 258.3Z" fill="#1a1a1a"/>
<circle cx="476.9" cy="295.1" r="1.6" fill="#ffffff" stroke="#3a3a3a" stroke-width="0.7"/>
<circle cx="482.6" cy="293.7" r="1.6" fill="#ffffff" stroke="#3a3a3a" stroke-width="0.7"/>
<circle cx="488.3" cy="295.1" r="1.6" fill="#ffffff" stroke="#3a3a3a" stroke-width="0.7"/>
<path d="M426.2 267.9 A4.9 4.9 0 1 1 422.74 275.54" fill="none" stroke="#1e1e1e" stroke-width="1.3"/>
<path d="M421.06 273.05 L424.93 275.03 L421.44 277.38Z" fill="#1e1e1e"/>
<path d="M472.9 267.9 A4.9 4.9 0 1 0 476.36 275.54" fill="none" stroke="#1e1e1e" stroke-width="1.3"/>
<path d="M478.04 273.05 L477.66 277.38 L474.17 275.03Z" fill="#1e1e1e"/>
<line x1="404" y1="221.5" x2="404" y2="214.4" stroke="#f29040" stroke-width="1.0"/>
<path d="M404 212 L402.5 215 L405.5 215Z" fill="#f29040"/>
<line x1="493" y1="211" x2="493" y2="217.6" stroke="#2a9cc6" stroke-width="1.0"/>
<path d="M493 220 L491.5 217 L494.5 217Z" fill="#2a9cc6"/>
<line x1="401" y1="319.5" x2="401" y2="326.4" stroke="#2a9cc6" stroke-width="1.0"/>
<path d="M401 328.8 L399.5 325.8 L402.5 325.8Z" fill="#2a9cc6"/>
<line x1="496.5" y1="329.5" x2="496.5" y2="322.9" stroke="#f29040" stroke-width="1.0"/>
<path d="M496.5 320.5 L495 323.5 L498 323.5Z" fill="#f29040"/>
<line x1="387" y1="242.5" x2="399" y2="242.5" stroke="#f03c24" stroke-width="1.3"/>
<path d="M401.6 242.5 L395.8 239.9 L397.4 242.5 L395.8 245.1Z" fill="#f03c24"/>
<text x="388.4" y="252.6" font-size="7.8" fill="#141414" stroke="#141414" stroke-width="0.25" font-style="italic">I</text>
<text x="391" y="254.7" font-size="6" fill="#141414" stroke="#141414" stroke-width="0.2" textLength="14.3" lengthAdjust="spacingAndGlyphs">CPGE</text>
<path d="M500 240.1 L496 242.5 L500 244.9Z" fill="#40b8ea"/>
<text x="497" y="252.5" font-size="8" fill="#141414" stroke="#141414" stroke-width="0.3" text-anchor="start" font-weight="normal" font-style="italic" >I</text>
</svg>
</body></html>
